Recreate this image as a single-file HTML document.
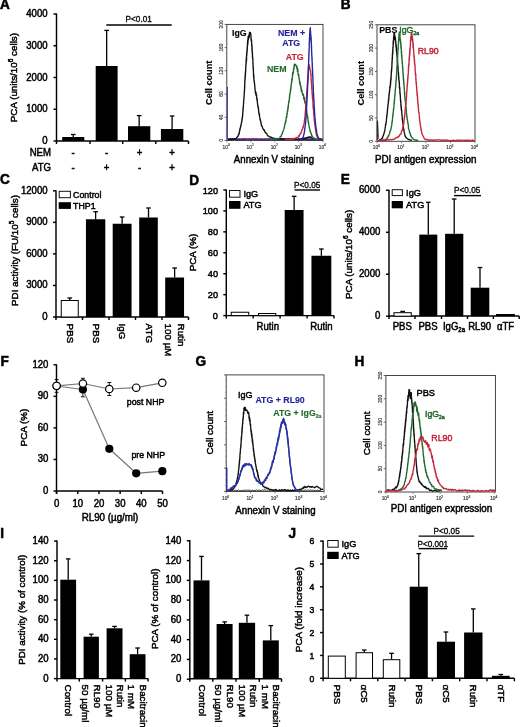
<!DOCTYPE html>
<html><head><meta charset="utf-8"><title>Figure</title>
<style>
html,body{margin:0;padding:0;background:#fff;}
svg{display:block;font-family:"Liberation Sans",sans-serif;filter:blur(0.4px);}
</style></head><body>
<svg width="520" height="727" viewBox="0 0 520 727">
<rect x="0" y="0" width="520" height="727" fill="#fff"/>
<text transform="translate(0,9) scale(1,1.06)" font-size="13.6" font-weight="bold" stroke="#000" stroke-width="0.5">A</text>
<line x1="56.5" y1="13.5" x2="56.5" y2="141.5" stroke="#000" stroke-width="1.45"/>
<line x1="53.5" y1="141" x2="56.5" y2="141" stroke="#000" stroke-width="1.45"/>
<text transform="translate(47.6,144) scale(1,1.06)" font-size="9.6" text-anchor="end" stroke="#000" stroke-width="0.45">0</text>
<line x1="53.5" y1="109.25" x2="56.5" y2="109.25" stroke="#000" stroke-width="1.45"/>
<text transform="translate(47.6,112.25) scale(1,1.06)" font-size="9.6" text-anchor="end" stroke="#000" stroke-width="0.45">1000</text>
<line x1="53.5" y1="77.5" x2="56.5" y2="77.5" stroke="#000" stroke-width="1.45"/>
<text transform="translate(47.6,80.5) scale(1,1.06)" font-size="9.6" text-anchor="end" stroke="#000" stroke-width="0.45">2000</text>
<line x1="53.5" y1="45.75" x2="56.5" y2="45.75" stroke="#000" stroke-width="1.45"/>
<text transform="translate(47.6,48.75) scale(1,1.06)" font-size="9.6" text-anchor="end" stroke="#000" stroke-width="0.45">3000</text>
<line x1="53.5" y1="14" x2="56.5" y2="14" stroke="#000" stroke-width="1.45"/>
<text transform="translate(47.6,17) scale(1,1.06)" font-size="9.6" text-anchor="end" stroke="#000" stroke-width="0.45">4000</text>
<line x1="56" y1="141" x2="188.5" y2="141" stroke="#000" stroke-width="1.45"/>
<line x1="56.5" y1="141" x2="56.5" y2="144" stroke="#000" stroke-width="1.45"/>
<line x1="90" y1="141" x2="90" y2="144" stroke="#000" stroke-width="1.45"/>
<line x1="122.7" y1="141" x2="122.7" y2="144" stroke="#000" stroke-width="1.45"/>
<line x1="155.8" y1="141" x2="155.8" y2="144" stroke="#000" stroke-width="1.45"/>
<line x1="188.5" y1="141" x2="188.5" y2="144" stroke="#000" stroke-width="1.45"/>
<rect x="62.2" y="137" width="22.1" height="4" fill="#000"/>
<line x1="73.25" y1="137" x2="73.25" y2="134.5" stroke="#000" stroke-width="1.3"/>
<line x1="70.95" y1="134.5" x2="75.55" y2="134.5" stroke="#000" stroke-width="1.3"/>
<rect x="95.7" y="66" width="21.9" height="75" fill="#000"/>
<line x1="106.65" y1="66" x2="106.65" y2="30.4" stroke="#000" stroke-width="1.3"/>
<line x1="104.35" y1="30.4" x2="108.95" y2="30.4" stroke="#000" stroke-width="1.3"/>
<rect x="128" y="126.2" width="22.3" height="14.8" fill="#000"/>
<line x1="139.15" y1="126.2" x2="139.15" y2="115.6" stroke="#000" stroke-width="1.3"/>
<line x1="136.85" y1="115.6" x2="141.45" y2="115.6" stroke="#000" stroke-width="1.3"/>
<rect x="160.9" y="129" width="22.4" height="12" fill="#000"/>
<line x1="172.1" y1="129" x2="172.1" y2="116" stroke="#000" stroke-width="1.3"/>
<line x1="169.8" y1="116" x2="174.4" y2="116" stroke="#000" stroke-width="1.3"/>
<text transform="translate(16.9,77.6) rotate(-90)" font-size="9.8" text-anchor="middle" stroke="#000" stroke-width="0.45">PCA (units/10<tspan dy="-3.6" font-size="6.6">6</tspan><tspan dy="3.6"> cells)</tspan></text>
<text transform="translate(51,155.8) scale(1,1.06)" font-size="9.6" text-anchor="end" stroke="#000" stroke-width="0.45">NEM</text>
<text transform="translate(51,170.8) scale(1,1.06)" font-size="9.6" text-anchor="end" stroke="#000" stroke-width="0.45">ATG</text>
<text transform="translate(73,155.8) scale(1,1.06)" font-size="9.6" text-anchor="middle" stroke="#000" stroke-width="0.45">-</text>
<text transform="translate(106.5,155.8) scale(1,1.06)" font-size="9.6" text-anchor="middle" stroke="#000" stroke-width="0.45">-</text>
<text transform="translate(139.5,155.8) scale(1,1.06)" font-size="9.6" text-anchor="middle" stroke="#000" stroke-width="0.45">+</text>
<text transform="translate(172,155.8) scale(1,1.06)" font-size="9.6" text-anchor="middle" stroke="#000" stroke-width="0.45">+</text>
<text transform="translate(73,170.8) scale(1,1.06)" font-size="9.6" text-anchor="middle" stroke="#000" stroke-width="0.45">-</text>
<text transform="translate(106.5,170.8) scale(1,1.06)" font-size="9.6" text-anchor="middle" stroke="#000" stroke-width="0.45">+</text>
<text transform="translate(139.5,170.8) scale(1,1.06)" font-size="9.6" text-anchor="middle" stroke="#000" stroke-width="0.45">-</text>
<text transform="translate(172,170.8) scale(1,1.06)" font-size="9.6" text-anchor="middle" stroke="#000" stroke-width="0.45">+</text>
<line x1="106.3" y1="25" x2="171.7" y2="25" stroke="#000" stroke-width="1.4"/>
<text transform="translate(138.7,22.3) scale(1,1.06)" font-size="8.2" text-anchor="middle" stroke="#000" stroke-width="0.3">P&lt;0.01</text>
<rect x="226.8" y="24.4" width="96.2" height="116.1" fill="none" stroke="#333" stroke-width="0.9"/>
<line x1="224.6" y1="140.5" x2="226.8" y2="140.5" stroke="#444" stroke-width="0.8"/>
<text transform="translate(223,140.5) rotate(-90)" font-size="4.8" text-anchor="middle" fill="#333" stroke="#333" stroke-width="0.15">0</text>
<line x1="225.6" y1="134.69" x2="226.8" y2="134.69" stroke="#888" stroke-width="0.6"/>
<line x1="225.6" y1="128.89" x2="226.8" y2="128.89" stroke="#888" stroke-width="0.6"/>
<line x1="225.6" y1="123.09" x2="226.8" y2="123.09" stroke="#888" stroke-width="0.6"/>
<line x1="224.6" y1="117.28" x2="226.8" y2="117.28" stroke="#444" stroke-width="0.8"/>
<text transform="translate(223,117.28) rotate(-90)" font-size="4.8" text-anchor="middle" fill="#333" stroke="#333" stroke-width="0.15">40</text>
<line x1="225.6" y1="111.47" x2="226.8" y2="111.47" stroke="#888" stroke-width="0.6"/>
<line x1="225.6" y1="105.67" x2="226.8" y2="105.67" stroke="#888" stroke-width="0.6"/>
<line x1="225.6" y1="99.87" x2="226.8" y2="99.87" stroke="#888" stroke-width="0.6"/>
<line x1="224.6" y1="94.06" x2="226.8" y2="94.06" stroke="#444" stroke-width="0.8"/>
<text transform="translate(223,94.06) rotate(-90)" font-size="4.8" text-anchor="middle" fill="#333" stroke="#333" stroke-width="0.15">80</text>
<line x1="225.6" y1="88.25" x2="226.8" y2="88.25" stroke="#888" stroke-width="0.6"/>
<line x1="225.6" y1="82.45" x2="226.8" y2="82.45" stroke="#888" stroke-width="0.6"/>
<line x1="225.6" y1="76.65" x2="226.8" y2="76.65" stroke="#888" stroke-width="0.6"/>
<line x1="224.6" y1="70.84" x2="226.8" y2="70.84" stroke="#444" stroke-width="0.8"/>
<text transform="translate(223,70.84) rotate(-90)" font-size="4.8" text-anchor="middle" fill="#333" stroke="#333" stroke-width="0.15">120</text>
<line x1="225.6" y1="65.03" x2="226.8" y2="65.03" stroke="#888" stroke-width="0.6"/>
<line x1="225.6" y1="59.23" x2="226.8" y2="59.23" stroke="#888" stroke-width="0.6"/>
<line x1="225.6" y1="53.43" x2="226.8" y2="53.43" stroke="#888" stroke-width="0.6"/>
<line x1="224.6" y1="47.62" x2="226.8" y2="47.62" stroke="#444" stroke-width="0.8"/>
<text transform="translate(223,47.62) rotate(-90)" font-size="4.8" text-anchor="middle" fill="#333" stroke="#333" stroke-width="0.15">160</text>
<line x1="225.6" y1="41.82" x2="226.8" y2="41.82" stroke="#888" stroke-width="0.6"/>
<line x1="225.6" y1="36.01" x2="226.8" y2="36.01" stroke="#888" stroke-width="0.6"/>
<line x1="225.6" y1="30.21" x2="226.8" y2="30.21" stroke="#888" stroke-width="0.6"/>
<line x1="224.6" y1="24.4" x2="226.8" y2="24.4" stroke="#444" stroke-width="0.8"/>
<text transform="translate(223,24.4) rotate(-90)" font-size="4.8" text-anchor="middle" fill="#333" stroke="#333" stroke-width="0.15">200</text>
<line x1="226.8" y1="140.5" x2="226.8" y2="142.5" stroke="#666" stroke-width="0.7"/>
<text transform="translate(226.2,148.5) scale(1,1.06)" font-size="4.8" text-anchor="middle" fill="#333" stroke="#333" stroke-width="0.15">10<tspan dy="-2.2" font-size="3.4">0</tspan><tspan dy="2.2"></tspan></text>
<line x1="250.8" y1="140.5" x2="250.8" y2="142.5" stroke="#666" stroke-width="0.7"/>
<text transform="translate(250.2,148.5) scale(1,1.06)" font-size="4.8" text-anchor="middle" fill="#333" stroke="#333" stroke-width="0.15">10<tspan dy="-2.2" font-size="3.4">1</tspan><tspan dy="2.2"></tspan></text>
<line x1="274.9" y1="140.5" x2="274.9" y2="142.5" stroke="#666" stroke-width="0.7"/>
<text transform="translate(274.3,148.5) scale(1,1.06)" font-size="4.8" text-anchor="middle" fill="#333" stroke="#333" stroke-width="0.15">10<tspan dy="-2.2" font-size="3.4">2</tspan><tspan dy="2.2"></tspan></text>
<line x1="298.9" y1="140.5" x2="298.9" y2="142.5" stroke="#666" stroke-width="0.7"/>
<text transform="translate(298.3,148.5) scale(1,1.06)" font-size="4.8" text-anchor="middle" fill="#333" stroke="#333" stroke-width="0.15">10<tspan dy="-2.2" font-size="3.4">3</tspan><tspan dy="2.2"></tspan></text>
<line x1="323" y1="140.5" x2="323" y2="142.5" stroke="#666" stroke-width="0.7"/>
<text transform="translate(322.4,148.5) scale(1,1.06)" font-size="4.8" text-anchor="middle" fill="#333" stroke="#333" stroke-width="0.15">10<tspan dy="-2.2" font-size="3.4">4</tspan><tspan dy="2.2"></tspan></text>
<polyline points="228,139.16 228.54,139.02 229.31,139.42 230.18,138.96 231,139.33 231.75,139.19 232.5,138.95 233.25,139.31 234,138.93 234.75,139.25 235.5,138.96 236.25,138.97 237,139.24 237.75,139.56 238.5,139 239.25,139.08 240,139.4 240.75,139.66 241.5,139.36 242.25,139.22 243,139.68 243.75,138.94 244.5,139.59 245.25,139.13 246,139.02 246.75,138.99 247.5,139.15 248.25,139.55 249,139.04 249.75,139.37 250.5,139.41 251.25,139.2 252,139.34 252.75,138.95 253.5,138.95 254.25,139.06 255,139.44 255.75,139.24 256.5,139.15 257.25,139.37 258,139.26 258.75,139.14 259.5,139.54 260.25,139.46 261,139.1 261.75,139.36 262.5,139.32 263.25,139.6 264,139.48 264.75,139.13 265.5,139.68 266.25,138.99 267,139.23 267.75,139.51 268.5,139.02 269.25,139.29 270,138.93 270.75,139.43 271.5,139.51 272.25,139.36 273,139.6 273.75,139.15 274.5,139.46 275.25,139.38 276,139.36 276.75,139.26 277.5,139.57 278.25,139.66 279,139.28 279.75,139.43 280.5,138.95 281.25,139.46 282,139.42 282.75,139.69 283.5,139.56 284.25,139.13 285,139.21 285.75,139.43 286.5,138.92 287.25,139.27 288,139.03 288.75,138.99 289.5,138.95 290.25,139.51 291,139 291.75,139.1 292.5,139.21 293.25,139.6 294,138.96 294.75,139.26 295.5,139.34 296.25,139.61 297,139.56 297.75,139.59 298.5,139.12 299.25,139.23 300,139.19 300.75,139.61 301.5,139.67 302.25,139.02 303,139.04 303.75,139.09 304.5,139.09 305.25,139.29 306,139.37 306.75,139.11 307.5,138.9 308.25,139.24 309,139.2 309.75,139.35 310.5,139.66 311.25,139.45 312,139.31 312.75,139.39 313.5,139.44 314.25,138.94 315,139.62 315.75,139.52 316.5,139.6 317.25,139.54 318,139.21 318.82,139.22 319.69,138.98 320.46,139.41 321,138.95" fill="none" stroke="#2a2a8a" stroke-width="1.7" stroke-linejoin="round"/>
<polyline points="240,138.57 240.54,138.71 241.31,138.66 242.18,138.84 243,138.55 243.75,138.5 244.5,138.65 245.25,138.6 246,138.86 246.75,138.53 247.5,139.37 248.25,139.11 249,138.65 249.75,138.75 250.5,138.85 251.25,138.86 252,138.62 252.75,139.35 253.5,139.49 254.25,138.97 255,138.98 255.75,138.59 256.5,138.6 257.25,138.84 258,138.76 258.75,139.33 259.5,138.66 260.25,138.52 261,139.45 261.75,139.03 262.5,138.65 263.25,139.04 264,138.53 264.75,139.03 265.5,139.48 266.25,139.36 267,139.2 267.75,138.76 268.5,138.87 269.25,138.67 270,139.27 270.75,139.03 271.5,139.28 272.25,138.83 273,138.72 273.75,139.31 274.5,139.48 275.25,139.35 276,139.31 276.75,139.32 277.5,139.24 278.25,138.73 279,139.02 279.75,138.86 280.5,138.53 281.25,138.53 282,138.78 282.75,138.76 283.5,139.19 284.25,139.46 285,138.95 285.75,139.44 286.5,139.49 287.25,139.46 288,138.86 288.75,138.72 289.5,138.73 290.25,138.7 291,138.7 291.75,139.12 292.5,139.4 293.25,139.34 294,138.98 294.82,139.15 295.69,139.3 296.46,138.58 297,139.16" fill="none" stroke="#b03050" stroke-width="0.8" stroke-linejoin="round"/>
<polyline points="227.5,139.36 228,139.57 228.69,139.48 229.5,139.12 230.37,138.85 231.23,139.68 232,138.85 232.86,139.21 233.71,139.11 234.53,138.74 235.3,138.88 236,139.04 236.51,138 236.96,137.5 237.38,136.67 237.76,136.28 238.13,136.21 238.5,135.1 238.7,133.73 238.9,134.04 239.09,134.18 239.27,132.7 239.45,131.27 239.63,131.37 239.81,129.94 239.98,128.47 240.16,129.16 240.33,127.82 240.5,126.73 240.65,127.13 240.79,125.33 240.93,125.81 241.07,125.21 241.21,123.58 241.35,123.36 241.49,122.74 241.62,121.71 241.76,121.82 241.9,120.36 242.03,119.76 242.17,118.03 242.3,118.71 242.36,116.93 242.42,117.21 242.48,116.32 242.53,116.91 242.59,115.09 242.65,116.04 242.71,113.72 242.77,113.19 242.83,112.48 242.89,110.43 242.95,111 243.01,109.92 243.06,108.55 243.12,110.28 243.18,106.91 243.24,107.11 243.3,107.7 243.35,106.55 243.41,104.69 243.47,104.65 243.52,103.54 243.58,103.86 243.63,101.21 243.69,101.92 243.74,100.1 243.79,99.53 243.85,99.96 243.9,98.17 243.95,97.67 244,97.97 244.05,97.97 244.1,95.74 244.14,95.49 244.19,94.31 244.23,93.71 244.28,93.43 244.32,91.86 244.37,91.03 244.41,90.68 244.45,91.33 244.49,90.19 244.54,89.95 244.58,89.22 244.62,85.58 244.66,86.16 244.7,87.32 244.74,86.22 244.78,82.1 244.82,81.26 244.86,82.25 244.9,80.01 244.94,79.85 244.98,78.29 245.02,80.46 245.06,79.8 245.1,79.86 245.14,76.05 245.18,78.26 245.22,77.11 245.26,74.34 245.3,76.7 245.35,76.1 245.4,71.93 245.45,75.08 245.5,71.58 245.55,70.94 245.6,72.32 245.65,71.26 245.7,67.55 245.74,67.92 245.79,67.49 245.84,66.3 245.89,65.13 245.94,64.48 245.98,65.6 246.03,61.76 246.08,63.76 246.13,62.74 246.18,59.59 246.23,60.93 246.28,61.64 246.34,60.2 246.39,57.02 246.44,61.54 246.5,59.31 246.55,59.94 246.61,54.33 246.67,54.38 246.72,52.88 246.78,55.54 246.84,52.65 246.9,50.75 246.95,51.22 247.01,53.02 247.07,51.9 247.13,48.33 247.19,47.17 247.26,49.86 247.32,47.41 247.38,47.21 247.44,43.76 247.5,42.18 247.56,44.84 247.63,42.72 247.69,40.38 247.75,44.93 247.81,42.64 247.88,42.89 247.94,38.57 248,42.34 248.2,36.08 248.4,39.34 248.61,36.72 248.82,35.19 249.02,35.28 249.23,37.51 249.42,33.19 249.6,32.17 249.92,34.2 250.21,32.65 250.49,32.66 250.8,34.9 250.86,34.77 250.93,36.58 251,37.04 251.07,38.2 251.14,40.7 251.21,38.78 251.28,40.94 251.35,39.8 251.42,41.1 251.49,39.68 251.57,42.03 251.64,41.42 251.72,46.55 251.79,45.78 251.86,44.79 251.94,47.6 252.01,50.24 252.08,47.02 252.16,52.04 252.23,50.9 252.3,51.61 252.34,53.95 252.38,52.28 252.43,54.18 252.47,55.23 252.51,57.81 252.55,55.33 252.59,58.09 252.64,58.12 252.68,59.04 252.72,58.35 252.76,58.54 252.8,58.22 252.85,59.07 252.89,59.54 252.93,63.41 252.97,62.43 253.01,62.92 253.06,63.12 253.1,67.81 253.14,68 253.18,68 253.22,67.13 253.27,68.11 253.31,69.12 253.35,70.21 253.39,69.45 253.43,71.66 253.47,71.6 253.51,75.83 253.56,75.96 253.6,75.19 253.64,74.42 253.68,78.33 253.72,75.96 253.76,76.61 253.8,75.37 253.88,78.12 253.97,79.57 254.05,80.98 254.13,80.02 254.22,82.24 254.3,81.37 254.38,82.8 254.46,82.63 254.54,84.56 254.62,84.15 254.7,84.51 254.78,86.77 254.87,86.98 254.95,89.05 255.03,88.81 255.12,90.1 255.2,90.3 255.34,91.72 255.48,93.23 255.62,91.74 255.75,91.87 255.89,95.05 256.04,92.58 256.19,95.39 256.35,95.84 256.52,94.55 256.7,98.36 256.78,98.64 256.87,98.81 256.96,99.35 257.05,100.46 257.14,98.58 257.24,100.91 257.33,101.12 257.43,103.01 257.53,103.63 257.63,104.37 257.74,104.9 257.84,106.44 257.94,106.31 258.05,107.16 258.15,106.93 258.26,106.69 258.37,107.55 258.47,109.46 258.58,109.28 258.68,112.45 258.79,111.58 258.9,112.73 259,113.62 259.14,114.6 259.28,114.91 259.42,113.66 259.55,116.8 259.69,117.27 259.83,117.42 259.97,118.86 260.1,119.57 260.25,119.06 260.39,120.95 260.54,120.84 260.69,120.75 260.84,121.69 261,123.79 261.16,123.35 261.33,124.44 261.5,125.9 261.78,125.72 262.07,125.96 262.37,127.02 262.68,127.93 263,128.79 263.32,129.18 263.65,130.1 263.98,129.76 264.32,130.1 264.66,130.68 265,132.23 265.46,132.57 265.92,133.22 266.38,133.2 266.84,133.79 267.33,135.08 267.85,135.84 268.4,135.93 269,136.35 269.53,136.56 270.03,137.19 270.52,137.48 271.04,137.27 271.61,137.29 272.26,138.44 273.02,137.92 273.93,138.46 275,138.59 275.53,138.67 276.1,138.46 276.71,138.9 277.37,138.85 278.06,138.7 278.78,139.03 279.52,139.16 280.28,139.01 281.06,138.61 281.85,139.23 282.65,138.68 283.45,138.7 284.25,139.59 285.04,138.96 285.82,139.53 286.58,139.13 287.32,139.64 288.04,139.27 288.73,138.92 289.38,139 290,139.34 290.88,139.32 291.74,139.56 292.58,139.02 293.4,139.45 294.19,139.22 294.95,139.29 295.69,139.04 296.4,139.13 297.08,139.43 297.73,139.53 298.34,139.04 298.93,139.35 299.48,139.37 300,139.7 301.2,138.9 302.08,138.77 302.76,138.93 303.36,138.79 304,138.22 304.82,138.07 305.56,138.32 306.27,137.55 307,137.87 307.75,137.38 308.5,137.23 309.25,136.67 310,137.81 310.75,137.07 311.5,137.97 312.25,138.13 313,138.42 313.67,138.3 314.28,138.43 315,138.9 316,139.35 316.6,139.27 317.33,139.07 318.15,139.15 319.01,139.62 319.86,139.77 320.69,139.02 321.43,139.47 322.04,139.51 322.5,139.07" fill="none" stroke="#111" stroke-width="1.35" stroke-linejoin="round"/>
<polyline points="270,139.78 270.43,138.75 271.02,139.67 271.71,139.7 272.49,139.74 273.31,138.8 274.15,138.9 274.97,138.83 275.74,138.65 276.43,139.49 277,139.29 278.03,138.91 278.75,138.64 279.34,138.39 280,137.28 280.38,136.4 280.76,136.36 281.15,136.48 281.53,134.94 281.91,133.99 282.29,133.67 282.65,131.89 283,131.19 283.19,131.11 283.38,130.39 283.57,130 283.75,129.43 283.93,128.55 284.11,128.5 284.28,127.07 284.45,127.39 284.63,126.15 284.8,125.22 284.97,123.46 285.15,123.96 285.32,122.42 285.5,123.26 285.62,120.57 285.75,121.36 285.88,121.74 286,119.69 286.12,120 286.25,117.1 286.38,118.32 286.5,116.56 286.62,117.69 286.75,117.12 286.88,113.37 287,114.89 287.12,114.58 287.25,111.66 287.38,111.12 287.5,111.88 287.62,109.17 287.75,111.13 287.88,107.86 288,109.44 288.1,106 288.2,106.41 288.3,107.58 288.4,104.38 288.5,103.47 288.6,104.09 288.7,102.19 288.8,101.21 288.9,100.88 289,100.15 289.1,101.96 289.2,100.05 289.3,100.13 289.4,96.77 289.5,98.75 289.6,94.75 289.7,96.33 289.8,95.11 289.9,93.52 290,94.78 290.1,93.48 290.2,92.45 290.3,92.78 290.4,89.54 290.5,91.68 290.6,89.74 290.71,88.13 290.81,89.22 290.92,86.3 291.03,88.39 291.13,85.63 291.24,83.94 291.34,84.68 291.45,83.25 291.56,81.17 291.66,82.9 291.77,78.6 291.87,81.44 291.98,78.58 292.08,79.34 292.19,79.7 292.29,77.6 292.4,77.69 292.5,74.83 292.6,72.75 292.7,72.38 292.8,72.71 292.9,74.4 293,72.35 293.21,71.62 293.42,72.46 293.63,68.03 293.84,67.78 294.04,68.62 294.24,65.07 294.44,64.18 294.64,66.09 294.83,64.19 295.02,64.39 295.2,64.33 295.67,64.99 296.11,65.8 296.55,65.61 297,68.88 297.14,68.61 297.28,67.27 297.42,71.41 297.56,69.28 297.7,69.02 297.84,69.63 297.99,73.07 298.13,74.56 298.28,75.31 298.42,74.78 298.57,74.87 298.71,74.34 298.86,78.04 299,78.24 299.14,77.71 299.29,80.19 299.43,79.86 299.57,83.06 299.71,83.1 299.86,81.31 300,84.96 300.14,82.27 300.29,84.7 300.43,84.7 300.57,85.2 300.71,85.31 300.86,88.78 301,86.24 301.2,89.38 301.4,91.53 301.61,89.09 301.81,89.85 302.01,91.98 302.21,92.57 302.41,93.21 302.61,94.82 302.81,93.41 303,94.5 303.24,95.17 303.47,94.59 303.69,98.53 303.92,98.85 304.14,99.47 304.36,97.47 304.58,101.5 304.8,102.28 304.93,101.15 305.07,103.18 305.2,102.95 305.33,102.45 305.46,102.83 305.59,104.43 305.72,103.57 305.85,105.77 305.98,107.44 306.11,108.62 306.24,109.99 306.37,109.91 306.5,108.89 306.61,110.92 306.73,111.23 306.84,113.17 306.95,112.92 307.06,113.06 307.18,115.08 307.29,116.42 307.4,115.02 307.51,118.11 307.63,115.84 307.74,117.72 307.85,118.12 307.97,120.49 308.08,121.03 308.2,122.08 308.33,121.21 308.47,122.96 308.6,122.66 308.74,123.34 308.88,125.13 309.01,125.65 309.15,126.48 309.29,127.38 309.43,128.3 309.57,127.88 309.71,129.15 309.85,130 310,131.06 310.21,130.74 310.41,131.67 310.61,132.74 310.82,132.66 311.03,133.03 311.25,134.12 311.48,134.7 311.73,136.25 312,135.76 312.4,136.23 312.78,137.06 313.19,137.89 313.67,138.68 314.26,138.36 315,138.95 315.57,139.31 316.26,139.61 317.03,139.3 317.85,139.17 318.69,139.44 319.51,138.86 320.29,139.67 320.98,139.12 321.57,139.73 322,139.15" fill="none" stroke="#23692f" stroke-width="1.35" stroke-linejoin="round"/>
<polyline points="285,139.24 285.44,139.42 286.02,139.73 286.71,139.55 287.49,139.3 288.32,139.21 289.18,139.16 290.05,139.48 290.89,139.04 291.68,139.29 292.39,139.13 293,139.37 293.91,139.15 294.67,138.39 295.31,138.26 295.89,138.19 296.44,137.47 297,137.83 297.56,137.73 298.08,137.33 298.57,135.61 299.04,136.46 299.52,135.64 300,134.19 300.3,133.4 300.6,133.87 300.91,133.34 301.22,132.06 301.52,131.04 301.82,130.55 302.11,129.49 302.39,129.47 302.65,128.27 302.9,127.27 303.07,127.67 303.23,127.33 303.38,125.62 303.53,125.99 303.67,125.11 303.81,124.94 303.94,123.9 304.07,123.55 304.19,122.67 304.32,122.47 304.44,120.18 304.56,120.29 304.68,118.7 304.8,118.87 304.87,117.49 304.93,117.65 305,116.45 305.06,115.28 305.13,114.53 305.19,113.3 305.25,113.58 305.31,111.72 305.37,111.87 305.43,110.19 305.49,110.48 305.55,110.17 305.61,109.28 305.67,109.69 305.73,106.11 305.78,108.07 305.84,105.81 305.9,105.26 305.96,105.58 306.01,104.9 306.07,102.34 306.13,102.13 306.18,103.35 306.24,99.01 306.3,100.56 306.35,99.67 306.4,96.95 306.45,97.93 306.51,97.49 306.56,98.45 306.61,95.41 306.66,96.8 306.71,94.36 306.76,93.28 306.81,94.52 306.86,90.17 306.91,92.49 306.96,91.23 307.01,89.4 307.06,90.84 307.11,87.56 307.16,87.08 307.21,86.68 307.26,86.94 307.31,83.85 307.36,84.03 307.41,83.68 307.46,83.79 307.51,83.93 307.55,81.4 307.6,82.99 307.65,79.86 307.7,80.09 307.77,78.05 307.83,77.97 307.9,79.81 307.96,76.94 308.03,76.9 308.09,74 308.16,73.3 308.22,72.11 308.29,72.35 308.35,71.8 308.41,71.48 308.48,67.89 308.54,70.39 308.61,69.88 308.67,67.51 308.74,64.75 308.8,65.52 308.87,64.11 308.93,64.62 309,67.8 309.23,65.16 309.46,66.08 309.69,67.28 309.93,68.87 310.17,69.17 310.4,70.19 310.46,70.78 310.51,72.09 310.57,72.32 310.62,73.07 310.68,71.23 310.73,74.17 310.79,74.02 310.84,75.56 310.9,73.47 310.96,74.52 311.01,74.53 311.07,78.84 311.12,79.97 311.18,79.68 311.23,79.16 311.29,82.34 311.34,82.45 311.4,82.87 311.46,81.99 311.51,82.86 311.57,84.88 311.63,84.69 311.68,86.52 311.74,88.1 311.8,90.05 311.85,86.62 311.9,89.6 311.96,87.94 312.01,89.64 312.06,92.98 312.11,92.62 312.17,94.51 312.22,93.35 312.27,92.85 312.33,94.72 312.38,96.34 312.44,97.96 312.49,98.91 312.54,97.68 312.6,98.72 312.65,98.24 312.71,100.56 312.76,100.37 312.81,100.41 312.87,100.8 312.92,101.29 312.98,104.37 313.03,103.66 313.08,106.73 313.14,104.42 313.19,107.87 313.25,106.03 313.3,106.81 313.37,109.19 313.44,109.22 313.5,110.78 313.57,110.62 313.64,110.84 313.71,113.38 313.78,114.18 313.85,115.19 313.91,115.57 313.98,114.51 314.05,116.86 314.12,118.3 314.19,118.38 314.25,120.23 314.32,118.55 314.39,121.15 314.46,121.69 314.53,120 314.6,121.2 314.66,122.97 314.73,124.5 314.8,122.69 314.91,124.75 315.01,126.14 315.12,125.68 315.22,127.76 315.33,128.49 315.43,128.23 315.54,129.25 315.64,130.5 315.75,131.33 315.86,131.78 315.97,131.87 316.08,133.06 316.19,133.03 316.3,134.41 316.54,135.41 316.75,135.65 316.96,136.27 317.22,137.23 317.55,138.25 318,138.47 318.64,138.52 319.46,138.59 320.36,139 321.23,139.48 321.98,139.54 322.5,139.45" fill="none" stroke="#c4243c" stroke-width="1.35" stroke-linejoin="round"/>
<polyline points="298,139.11 298.58,139 299.41,139.14 300.35,139.15 301.26,139.21 302,138.32 302.39,138.5 302.73,137.31 303.02,137.21 303.28,137.15 303.52,135.82 303.75,134.63 304,134.45 304.11,133.27 304.21,133.37 304.31,131.85 304.41,131.62 304.51,131.85 304.61,130.33 304.7,129.38 304.8,129.02 304.89,128.52 304.98,127.17 305.07,127.22 305.16,126.51 305.25,125.53 305.34,123.95 305.43,124.15 305.51,123.37 305.6,123.11 305.65,121.21 305.7,121.23 305.75,120.18 305.8,120.44 305.85,117.77 305.9,119.39 305.95,119.19 306,117.06 306.04,116.71 306.09,115.66 306.14,115.09 306.18,113.14 306.23,114.82 306.28,112.03 306.32,111.51 306.37,110.29 306.41,110.17 306.46,110.8 306.5,107.58 306.54,107.11 306.59,108.12 306.63,106.2 306.68,104.41 306.72,105.66 306.77,104.51 306.81,103.76 306.86,103.45 306.9,100.58 306.93,102.39 306.97,101.27 307,98.69 307.03,98.02 307.06,98.6 307.1,97.93 307.13,96.5 307.16,95.2 307.2,95.42 307.23,94.09 307.26,94.89 307.29,95.08 307.33,91.98 307.36,92.52 307.39,92.57 307.42,89.92 307.45,91.35 307.49,91.25 307.52,88.57 307.55,87.94 307.58,88.5 307.61,86.6 307.65,85.55 307.68,86.85 307.71,85.78 307.74,82.77 307.77,82.05 307.8,81.44 307.83,80.97 307.86,82.71 307.89,81.04 307.92,81.14 307.95,79.74 307.98,79.56 308.01,75.16 308.04,76.38 308.07,77.58 308.1,77.02 308.13,72.95 308.16,73.38 308.19,73.15 308.22,71.4 308.25,71.44 308.28,68.38 308.31,69.63 308.34,68.98 308.37,66.11 308.4,65.86 308.43,68.92 308.46,67.31 308.49,67.17 308.52,65.02 308.55,65.55 308.58,64.87 308.6,64.35 308.63,59.1 308.66,61.65 308.69,58.94 308.72,60.37 308.74,57.5 308.77,58 308.8,59.39 308.83,57.1 308.85,54.45 308.88,55.5 308.91,54.11 308.94,56.19 308.96,52.38 308.99,51.73 309.02,52.92 309.05,49.49 309.07,50.91 309.1,52.28 309.13,48.97 309.17,47.21 309.2,47.4 309.24,46.71 309.27,43.79 309.3,42.92 309.34,42.1 309.37,41.84 309.4,41.95 309.44,40.14 309.47,39.2 309.5,37.22 309.53,38.93 309.57,40.27 309.6,38.09 309.63,37.11 309.66,36.45 309.7,33.2 309.73,35.54 309.76,33.52 309.8,33.52 309.83,33.42 309.86,31.9 309.9,30.72 309.93,30.15 309.97,29.44 310,31.28 310.09,29.92 310.19,31.05 310.28,27.56 310.38,30.07 310.48,33.84 310.57,30.91 310.67,33.64 310.78,35.06 310.89,35.32 311,40.62 311.03,37.03 311.06,40.69 311.09,37.61 311.12,37.29 311.16,42.45 311.19,40.55 311.22,39.46 311.25,41.53 311.29,42.87 311.32,45.04 311.35,41.88 311.39,43.57 311.42,48.07 311.46,47.79 311.49,45.41 311.53,46.8 311.56,47.51 311.6,50.5 311.63,50.63 311.67,52.94 311.7,53.41 311.74,52.63 311.77,54.62 311.81,55.31 311.84,56.08 311.88,55.18 311.91,57.94 311.95,58.19 311.99,60.07 312.02,57.15 312.06,61.2 312.09,58.05 312.13,62.19 312.16,62.48 312.2,62.88 312.23,65.6 312.27,64.62 312.3,64.88 312.33,67.13 312.36,68.18 312.39,67.43 312.42,66.93 312.45,68.17 312.48,68.94 312.52,70.77 312.55,69.55 312.58,70.63 312.61,72.47 312.64,72.39 312.67,72.59 312.7,75.44 312.73,76.62 312.76,75.74 312.79,76.54 312.82,75.78 312.85,77.03 312.88,77.44 312.91,79.62 312.94,80.64 312.97,79.13 313.01,83.71 313.04,81.76 313.07,84.81 313.1,85.16 313.13,86.68 313.16,84.25 313.19,85.81 313.22,88.68 313.25,85.79 313.28,86.23 313.31,89.11 313.35,89.58 313.38,91.84 313.41,91.86 313.44,91.75 313.47,94.14 313.5,93.25 313.54,93.75 313.57,94.83 313.6,94.48 313.64,95.28 313.68,96.91 313.73,96.73 313.77,99.63 313.81,99.42 313.85,100.27 313.9,99.44 313.94,100.79 313.98,102.05 314.03,103.54 314.07,104.1 314.11,105.6 314.16,106.85 314.2,106 314.24,106.45 314.29,107.98 314.33,109.55 314.38,108.77 314.42,109.89 314.46,111.45 314.51,110.38 314.55,111.34 314.6,113.7 314.64,113.9 314.69,113.59 314.73,113.03 314.77,116.29 314.82,116.37 314.86,117 314.91,117.97 314.95,118.54 315,118 315.08,118.36 315.16,119.2 315.24,121.03 315.33,121.91 315.41,121.96 315.49,122.51 315.58,124.2 315.66,125.26 315.74,125.15 315.83,127.18 315.91,127.22 316,126.59 316.08,128.21 316.16,129.14 316.25,128.73 316.33,130.29 316.42,129.71 316.5,130.87 316.68,132.76 316.86,133.45 317.04,134.42 317.22,134.3 317.4,135.33 317.59,135.78 317.79,136.13 318,137.18 318.45,137.63 318.94,138.86 319.45,138.71 320,139.14 320.89,139.64 321.83,139.12 322.5,139.17" fill="none" stroke="#24249c" stroke-width="1.35" stroke-linejoin="round"/>
<line x1="227.4" y1="87" x2="227.4" y2="139.5" stroke="#3a3a9a" stroke-width="1.0"/>
<text transform="translate(232,35.6) scale(1,1.06)" font-size="8.8" font-weight="bold" stroke="#000" stroke-width="0.12">IgG</text>
<text transform="translate(278,35.8) scale(1,1.06)" font-size="8.8" font-weight="bold" fill="#24249c" stroke="#24249c" stroke-width="0.12">NEM +</text>
<text transform="translate(282.3,46.2) scale(1,1.06)" font-size="8.8" font-weight="bold" fill="#24249c" stroke="#24249c" stroke-width="0.12">ATG</text>
<text transform="translate(285.8,60) scale(1,1.06)" font-size="8.8" font-weight="bold" fill="#c4243c" stroke="#c4243c" stroke-width="0.12">ATG</text>
<text transform="translate(267,71.9) scale(1,1.06)" font-size="8.8" font-weight="bold" fill="#23692f" stroke="#23692f" stroke-width="0.12">NEM</text>
<text transform="translate(212.2,82.8) rotate(-90)" font-size="9.2" font-weight="bold" text-anchor="middle" stroke="#000" stroke-width="0.15">Cell count</text>
<text transform="translate(273.9,163.4) scale(1,1.06)" font-size="9.7" text-anchor="middle" stroke="#000" stroke-width="0.45">Annexin V staining</text>
<text transform="translate(340.8,9) scale(1,1.06)" font-size="13.6" font-weight="bold" stroke="#000" stroke-width="0.5">B</text>
<rect x="377" y="24.8" width="98" height="116.5" fill="none" stroke="#333" stroke-width="0.9"/>
<line x1="374.8" y1="141.3" x2="377" y2="141.3" stroke="#444" stroke-width="0.8"/>
<text transform="translate(373.4,141.3) rotate(-90)" font-size="4.8" text-anchor="middle" fill="#333" stroke="#333" stroke-width="0.15">0</text>
<line x1="375.8" y1="135.48" x2="377" y2="135.48" stroke="#888" stroke-width="0.6"/>
<line x1="375.8" y1="129.65" x2="377" y2="129.65" stroke="#888" stroke-width="0.6"/>
<line x1="375.8" y1="123.83" x2="377" y2="123.83" stroke="#888" stroke-width="0.6"/>
<line x1="374.8" y1="118" x2="377" y2="118" stroke="#444" stroke-width="0.8"/>
<text transform="translate(373.4,118) rotate(-90)" font-size="4.8" text-anchor="middle" fill="#333" stroke="#333" stroke-width="0.15">50</text>
<line x1="375.8" y1="112.17" x2="377" y2="112.17" stroke="#888" stroke-width="0.6"/>
<line x1="375.8" y1="106.35" x2="377" y2="106.35" stroke="#888" stroke-width="0.6"/>
<line x1="375.8" y1="100.53" x2="377" y2="100.53" stroke="#888" stroke-width="0.6"/>
<line x1="374.8" y1="94.7" x2="377" y2="94.7" stroke="#444" stroke-width="0.8"/>
<text transform="translate(373.4,94.7) rotate(-90)" font-size="4.8" text-anchor="middle" fill="#333" stroke="#333" stroke-width="0.15">100</text>
<line x1="375.8" y1="88.88" x2="377" y2="88.88" stroke="#888" stroke-width="0.6"/>
<line x1="375.8" y1="83.05" x2="377" y2="83.05" stroke="#888" stroke-width="0.6"/>
<line x1="375.8" y1="77.22" x2="377" y2="77.22" stroke="#888" stroke-width="0.6"/>
<line x1="374.8" y1="71.4" x2="377" y2="71.4" stroke="#444" stroke-width="0.8"/>
<text transform="translate(373.4,71.4) rotate(-90)" font-size="4.8" text-anchor="middle" fill="#333" stroke="#333" stroke-width="0.15">150</text>
<line x1="375.8" y1="65.58" x2="377" y2="65.58" stroke="#888" stroke-width="0.6"/>
<line x1="375.8" y1="59.75" x2="377" y2="59.75" stroke="#888" stroke-width="0.6"/>
<line x1="375.8" y1="53.93" x2="377" y2="53.93" stroke="#888" stroke-width="0.6"/>
<line x1="374.8" y1="48.1" x2="377" y2="48.1" stroke="#444" stroke-width="0.8"/>
<text transform="translate(373.4,48.1) rotate(-90)" font-size="4.8" text-anchor="middle" fill="#333" stroke="#333" stroke-width="0.15">200</text>
<line x1="375.8" y1="42.27" x2="377" y2="42.27" stroke="#888" stroke-width="0.6"/>
<line x1="375.8" y1="36.45" x2="377" y2="36.45" stroke="#888" stroke-width="0.6"/>
<line x1="375.8" y1="30.62" x2="377" y2="30.62" stroke="#888" stroke-width="0.6"/>
<line x1="374.8" y1="24.8" x2="377" y2="24.8" stroke="#444" stroke-width="0.8"/>
<text transform="translate(373.4,24.8) rotate(-90)" font-size="4.8" text-anchor="middle" fill="#333" stroke="#333" stroke-width="0.15">250</text>
<line x1="377" y1="141.3" x2="377" y2="143.3" stroke="#666" stroke-width="0.7"/>
<text transform="translate(376.4,149.3) scale(1,1.06)" font-size="4.8" text-anchor="middle" fill="#333" stroke="#333" stroke-width="0.15">10<tspan dy="-2.2" font-size="3.4">0</tspan><tspan dy="2.2"></tspan></text>
<line x1="401.5" y1="141.3" x2="401.5" y2="143.3" stroke="#666" stroke-width="0.7"/>
<text transform="translate(400.9,149.3) scale(1,1.06)" font-size="4.8" text-anchor="middle" fill="#333" stroke="#333" stroke-width="0.15">10<tspan dy="-2.2" font-size="3.4">1</tspan><tspan dy="2.2"></tspan></text>
<line x1="426" y1="141.3" x2="426" y2="143.3" stroke="#666" stroke-width="0.7"/>
<text transform="translate(425.4,149.3) scale(1,1.06)" font-size="4.8" text-anchor="middle" fill="#333" stroke="#333" stroke-width="0.15">10<tspan dy="-2.2" font-size="3.4">2</tspan><tspan dy="2.2"></tspan></text>
<line x1="450.5" y1="141.3" x2="450.5" y2="143.3" stroke="#666" stroke-width="0.7"/>
<text transform="translate(449.9,149.3) scale(1,1.06)" font-size="4.8" text-anchor="middle" fill="#333" stroke="#333" stroke-width="0.15">10<tspan dy="-2.2" font-size="3.4">3</tspan><tspan dy="2.2"></tspan></text>
<line x1="475" y1="141.3" x2="475" y2="143.3" stroke="#666" stroke-width="0.7"/>
<text transform="translate(474.4,149.3) scale(1,1.06)" font-size="4.8" text-anchor="middle" fill="#333" stroke="#333" stroke-width="0.15">10<tspan dy="-2.2" font-size="3.4">4</tspan><tspan dy="2.2"></tspan></text>
<polyline points="377.2,140.2 377.2,139.81 377.21,139.33 377.21,138.78 377.22,138.17 377.22,137.49 377.23,136.76 377.23,135.98 377.24,135.17 377.24,134.32 377.25,133.44 377.25,132.55 377.26,131.64 377.27,130.73 377.27,129.82 377.28,128.92 377.29,128.03 377.3,127.16 377.3,126.33 377.31,125.52 377.32,124.76 377.33,124.05 377.34,123.4 377.35,122.81 377.36,122.28 377.38,121.84 377.39,121.47 377.4,121.2 377.44,120.8 377.49,120.9 377.54,121.41 377.6,122.23 377.66,123.29 377.72,124.48 377.78,125.72 377.84,126.93 377.9,128 377.93,128.63 377.97,129.32 378.01,130.08 378.05,130.87 378.09,131.7 378.12,132.55 378.16,133.4 378.2,134.24 378.24,135.07 378.27,135.85 378.3,136.59 378.33,137.27 378.36,137.87 378.38,138.39 378.4,138.8" fill="none" stroke="#111" stroke-width="1.0" stroke-linejoin="round"/>
<polyline points="379,140.16 379.91,139.63 381,139.29 381.51,138.53 381.97,138.52 382.5,138.05 382.71,136.97 382.93,136.65 383.16,135.59 383.4,135.51 383.64,134.67 383.89,133.75 384.13,132.85 384.37,132.01 384.6,131.15 384.71,131.22 384.83,130.42 384.94,128.84 385.05,128.5 385.16,128.16 385.27,127.38 385.38,126.64 385.48,125.79 385.59,124.41 385.7,124.05 385.81,123.79 385.92,124.54 386.03,122.98 386.14,121.98 386.26,121.81 386.37,121.08 386.48,119.43 386.6,118.71 386.68,116.61 386.75,117.05 386.83,116.66 386.9,114.62 386.98,114.67 387.06,115.18 387.14,113.08 387.21,113.23 387.29,111.54 387.37,110.65 387.45,112.18 387.53,108.35 387.61,107.93 387.69,108.74 387.77,107.71 387.85,105.93 387.93,106.44 388.01,104.63 388.09,105.17 388.17,103.43 388.25,103.65 388.32,102.63 388.4,101.41 388.48,99.44 388.56,99.29 388.64,100.81 388.72,98.75 388.8,96.91 388.88,98.3 388.96,95.85 389.04,94.01 389.12,95.4 389.2,93.45 389.28,94.02 389.37,92.93 389.45,91.36 389.53,91.89 389.61,89.79 389.7,90.69 389.78,90.04 389.86,86.98 389.94,87.62 390.03,85.56 390.11,86.48 390.19,87.36 390.27,85.34 390.34,85.75 390.42,85.13 390.5,81.42 390.57,84.97 390.65,82.47 390.72,79.35 390.79,81.43 390.86,79.34 390.93,77.62 391,79.85 391.06,77.8 391.11,78.12 391.17,74.14 391.22,76.35 391.27,72.51 391.32,72.93 391.37,72.24 391.42,70.28 391.47,72.15 391.52,69.52 391.57,69.29 391.61,70.7 391.66,68.09 391.7,70.09 391.75,67.65 391.79,68.45 391.84,66.29 391.88,66.72 391.92,66.31 391.97,62.23 392.01,63.78 392.05,60.83 392.1,62.27 392.14,61.82 392.18,61.06 392.23,57.53 392.27,57.48 392.32,59.1 392.36,58.98 392.41,57.21 392.45,53.46 392.5,55.21 392.56,52 392.61,54 392.67,54.35 392.72,50.02 392.78,53.55 392.84,50.63 392.89,47.69 392.95,46.95 393,47.38 393.06,48.14 393.12,46.29 393.17,42.69 393.23,41.53 393.28,40.96 393.34,43.93 393.4,40.54 393.45,41.33 393.51,39.61 393.56,40.57 393.62,38.51 393.67,36.3 393.73,40.12 393.78,37.5 393.84,38.31 393.89,38.14 393.95,39.06 394,33.22 394.24,33.98 394.47,33.06 394.69,35.82 394.92,39.38 395.16,39.95 395.4,37.17 395.47,39.07 395.54,43.06 395.6,42.69 395.67,41.29 395.74,42.27 395.81,41.21 395.88,45.48 395.95,43.65 396.02,47.34 396.09,46.54 396.16,44.5 396.23,46.48 396.31,46.37 396.38,51.35 396.45,50.5 396.53,48.35 396.61,49.88 396.68,51.86 396.76,53.53 396.84,54.9 396.92,54.69 397,55.17 397.05,53.92 397.11,57.54 397.16,57.35 397.22,55.93 397.27,58.8 397.33,62.12 397.39,57.84 397.44,59.71 397.5,62.21 397.56,61.41 397.62,62.36 397.68,63.64 397.74,63.48 397.8,65.5 397.85,65.91 397.91,68.66 397.98,69.48 398.04,66.23 398.1,69.42 398.16,71.25 398.22,71.77 398.28,72.57 398.34,72.35 398.4,73.36 398.46,72.78 398.52,72.97 398.58,76.57 398.64,76.88 398.7,78.5 398.76,78.17 398.82,76.96 398.88,79.78 398.94,80.72 399,79.83 399.06,81.39 399.11,80.96 399.17,82.25 399.23,82.62 399.29,81.63 399.34,83.64 399.4,84.39 399.46,87.93 399.51,86.29 399.57,86.81 399.63,86.98 399.69,87.44 399.74,88.96 399.8,88.58 399.86,89.35 399.91,93.13 399.97,92.44 400.03,92.99 400.09,94.16 400.14,93.68 400.2,93.86 400.26,94.84 400.31,96.12 400.37,96.87 400.43,99.11 400.49,99.41 400.54,101.03 400.6,99.54 400.66,102.79 400.71,101.99 400.77,101.07 400.83,102.23 400.89,104.31 400.94,106.3 401,104.16 401.07,106.62 401.15,106.65 401.22,108.85 401.3,106.53 401.37,108.67 401.44,110.81 401.52,109.54 401.59,110.46 401.67,110.88 401.74,111.83 401.81,112.83 401.89,114.52 401.96,114.11 402.04,115.82 402.11,115.73 402.19,117.33 402.26,118.72 402.33,119.07 402.41,118.53 402.48,120.07 402.56,121.7 402.63,121.17 402.7,120.64 402.78,122.78 402.85,123.62 402.93,122.94 403,123.08 403.12,123.87 403.24,125.69 403.36,127.56 403.48,127.51 403.59,128.97 403.71,128.84 403.82,129.47 403.94,130.99 404.06,131.45 404.18,132.2 404.3,132.68 404.43,133.21 404.56,133.59 404.7,134.13 404.85,134.36 405,135.89 405.43,136.53 405.89,137.34 406.38,137.79 406.89,138.32 407.43,138.8 408,139.2 408.8,139.68 409.72,139.79 410.64,140.21 411.44,140.06 412,139.92" fill="none" stroke="#111" stroke-width="1.35" stroke-linejoin="round"/>
<polyline points="381,140.45 381.57,140.4 382.38,140.26 383.32,139.83 384.23,140.27 385,139.93 385.74,139.47 386.36,138.78 386.92,138.5 387.5,137.12 387.84,137.59 388.18,135.94 388.52,136.15 388.85,135.27 389.17,134.62 389.49,134.07 389.8,131.54 389.98,131.85 390.15,131.3 390.32,130.57 390.49,130.87 390.65,129.86 390.81,129.16 390.97,129.32 391.14,127.46 391.3,127.08 391.46,126.27 391.63,125.91 391.8,124.74 391.88,124.28 391.96,122.61 392.05,120.92 392.13,122.32 392.21,121.57 392.29,121.1 392.37,120.69 392.45,118.58 392.54,118.14 392.62,116.45 392.7,118.12 392.78,115.1 392.87,114.41 392.95,116.09 393.03,114.49 393.12,112.41 393.2,113.33 393.29,112.53 393.37,110.94 393.46,108.91 393.55,110.42 393.63,108.52 393.72,107.91 393.81,108.19 393.9,106.86 393.96,106.81 394.01,103.6 394.07,103.79 394.13,103.91 394.19,100.99 394.25,104.17 394.31,100.54 394.37,100.46 394.43,99.46 394.5,98.65 394.56,100.68 394.62,98.43 394.68,97.46 394.75,96.96 394.81,94.65 394.87,95.1 394.94,96.1 395,95.23 395.06,95.09 395.12,91.69 395.19,91.12 395.25,89.15 395.31,90.83 395.38,88.91 395.44,88.82 395.5,87.75 395.56,87.54 395.62,86.52 395.68,87.18 395.74,84.24 395.8,86.05 395.86,83.88 395.92,80.8 395.98,81.55 396.03,82 396.09,80.46 396.14,80.31 396.2,78.98 396.25,78.02 396.3,79.44 396.35,76.03 396.4,77.63 396.45,77.18 396.5,75.93 396.55,74.1 396.6,75.8 396.64,72.8 396.69,73.85 396.74,69.42 396.78,70.54 396.83,70.94 396.87,67.08 396.92,70.07 396.96,66.05 397,67.07 397.04,64.94 397.09,67.65 397.13,65.06 397.17,65.4 397.21,63.42 397.25,63.67 397.29,62.81 397.33,60.21 397.38,58.5 397.42,61.16 397.46,56.81 397.49,60.67 397.53,56.32 397.57,54.48 397.61,54.13 397.65,57 397.69,56.78 397.73,53.64 397.77,54.56 397.81,51.76 397.85,54.26 397.88,52.9 397.92,49.13 397.96,48.24 398,50.98 398.07,46.94 398.14,49.94 398.21,46.16 398.27,44.74 398.34,45.44 398.4,43.52 398.47,43.72 398.53,40.55 398.59,43.56 398.66,39.35 398.72,41.77 398.78,37.32 398.84,40.23 398.9,40.22 398.96,36.09 399.03,33.76 399.09,35.51 399.15,35.98 399.21,33.65 399.27,34.73 399.34,31.98 399.4,33.74 399.5,35.34 399.6,33.75 399.69,35.88 399.79,33.01 399.89,37.02 399.98,33.72 400.08,39.56 400.18,40.22 400.28,40.93 400.38,39.69 400.48,39.17 400.58,40.71 400.69,44.17 400.8,43.89 400.85,47.25 400.9,42.65 400.95,45.31 401,48.51 401.05,47.3 401.11,47.91 401.16,45.95 401.21,47 401.26,48 401.32,51.86 401.37,52.77 401.42,49.97 401.48,54.43 401.53,50.56 401.59,54.33 401.64,56.6 401.7,54.19 401.75,58.48 401.81,57.45 401.86,54.94 401.92,57.43 401.98,58.51 402.03,58.68 402.09,61.36 402.15,59.97 402.21,63.57 402.26,61.77 402.32,61.9 402.38,64.54 402.44,63.06 402.5,65.9 402.55,68.08 402.6,67.98 402.65,67.94 402.7,66.39 402.76,69.66 402.81,67.84 402.86,71.27 402.91,69.85 402.97,72.89 403.02,72.3 403.07,73.17 403.13,75.28 403.18,73.43 403.23,74.63 403.29,78.67 403.34,76.35 403.4,79.39 403.45,80.58 403.51,79.22 403.56,78.39 403.62,79.44 403.67,83.27 403.73,80.73 403.79,83.19 403.84,84.27 403.9,82.62 403.95,84.96 404.01,84.2 404.06,86.71 404.12,87.36 404.17,87.77 404.23,87.63 404.28,89.06 404.34,88.8 404.39,89.3 404.45,90.16 404.5,93.72 404.57,93.02 404.63,95.33 404.7,92.21 404.77,96.91 404.83,96.03 404.9,97.71 404.97,97.97 405.03,99.15 405.1,98.11 405.17,100.78 405.23,99.26 405.3,100.57 405.37,99.9 405.43,102.33 405.5,103.47 405.57,103.34 405.63,105.78 405.7,103.62 405.77,106.37 405.83,106.1 405.9,107.5 405.97,108.71 406.03,109.13 406.1,107.64 406.17,109.32 406.23,111.27 406.3,112.91 406.37,110.33 406.43,112.92 406.5,113.22 406.6,115.04 406.7,114.12 406.8,116 406.89,116.33 406.99,117.96 407.08,116.39 407.18,119.41 407.28,119.07 407.37,119.86 407.47,119.98 407.57,120.44 407.66,122.92 407.76,122.86 407.86,122.36 407.96,123.77 408.07,123.71 408.17,124.45 408.28,125.29 408.39,125.84 408.5,128.21 408.67,128.62 408.85,129.54 409.03,129.74 409.22,130.35 409.4,131.18 409.59,132.7 409.78,132.53 409.98,133.39 410.18,133.32 410.38,134.24 410.58,135.53 410.79,136.04 411,135.59 411.46,137.05 411.93,137.48 412.41,137.95 412.91,138.71 413.44,139.36 414,139.83 414.8,139.73 415.72,140.36 416.64,140.01 417.44,140.6 418,139.9" fill="none" stroke="#23692f" stroke-width="1.35" stroke-linejoin="round"/>
<polyline points="377.5,140.29 377.95,140.87 378.53,140.43 379.21,140.65 379.98,140.04 380.81,140.35 381.68,140.2 382.55,140.06 383.41,140.43 384.24,140.09 385,139.8 385.73,140.64 386.48,140.09 387.23,139.74 387.98,139.45 388.72,140.13 389.44,139.76 390.14,139.26 390.8,139.7 391.42,139.91 392,139.77 392.85,139.21 393.57,139.37 394.22,139.24 394.81,138.9 395.4,138.17 396,137.9 396.62,137.8 397.24,137.06 397.84,137.63 398.43,136.64 398.98,136.56 399.5,134.92 399.91,134.58 400.3,134.16 400.67,134.55 401.02,133.76 401.35,132.19 401.68,130.79 402,130.39 402.16,129.9 402.31,130.38 402.46,130.17 402.61,128.8 402.75,127.82 402.89,126.7 403.03,126.36 403.17,126.35 403.31,125.8 403.44,125.52 403.58,124.75 403.72,123.65 403.86,122.35 404,121.78 404.07,119.97 404.15,119.02 404.22,119.23 404.3,119.06 404.37,117.1 404.44,117.3 404.52,115.55 404.59,117.12 404.67,116.59 404.74,116.02 404.81,115.54 404.89,113.23 404.96,113.69 405.04,111.37 405.11,112.24 405.19,111.42 405.26,109.1 405.33,107.21 405.41,107.61 405.48,107.7 405.56,106.43 405.63,104.52 405.7,106.56 405.78,105.1 405.85,103.3 405.93,100.92 406,103.76 406.05,101.19 406.11,98.92 406.16,99.52 406.22,100 406.27,100.56 406.33,97.71 406.38,97.76 406.44,95.42 406.49,95.24 406.55,96.9 406.6,94.2 406.66,92.86 406.71,93.8 406.77,91.46 406.82,91.11 406.88,90.76 406.93,91.15 406.99,90.14 407.04,89.37 407.09,88.34 407.15,85.36 407.2,87.22 407.26,83.97 407.31,84.96 407.37,84.54 407.42,84.86 407.47,83.9 407.53,81.26 407.58,82.57 407.63,82 407.69,80.19 407.74,77.91 407.79,80.21 407.84,78.27 407.9,75.57 407.95,75.59 408,78.46 408.06,74.4 408.11,74.45 408.17,74.82 408.22,74.15 408.28,73.27 408.33,72.74 408.39,68.37 408.44,68.33 408.49,71.35 408.55,69.77 408.6,65.51 408.65,64.95 408.71,65.26 408.76,67.32 408.81,63.74 408.87,65.1 408.92,65.51 408.97,63.54 409.02,64.33 409.08,59.65 409.13,58.81 409.18,57.6 409.23,60.65 409.28,56.6 409.34,59.91 409.39,58.59 409.44,55.09 409.49,57.12 409.54,53.32 409.59,54.96 409.65,51.53 409.7,54.64 409.75,55.06 409.8,54.55 409.87,48.27 409.95,52.35 410.02,49.55 410.09,50.36 410.16,47.84 410.24,47.01 410.31,46.07 410.38,46.3 410.45,41.52 410.53,40.32 410.6,42.28 410.67,40.3 410.74,40.12 410.81,36.88 410.88,40.76 410.95,36.35 411.02,39.95 411.09,39.07 411.16,36.85 411.23,34.22 411.3,36.59 411.37,33.99 411.43,34.56 411.5,33.12 411.63,37.42 411.76,35.17 411.88,34.84 412,33.63 412.11,37.95 412.23,39.23 412.35,40.12 412.47,37.01 412.59,39.88 412.72,40.04 412.86,44.38 413,41.89 413.06,44.87 413.11,47.95 413.17,47.16 413.23,43.82 413.28,44.82 413.34,45.4 413.4,48.81 413.46,48.8 413.53,49.52 413.59,50.04 413.65,50.08 413.71,51.7 413.78,52.56 413.84,54.86 413.9,55.11 413.97,55.58 414.03,57.15 414.1,57.56 414.16,58.12 414.23,55.65 414.29,58.88 414.36,60.61 414.42,60.03 414.49,63.09 414.55,59.66 414.62,64.4 414.68,62.88 414.75,64.78 414.81,63.43 414.87,64.5 414.94,65.3 415,65.76 415.06,65.38 415.11,67.81 415.17,70.99 415.23,70.62 415.29,72.69 415.34,72.21 415.4,73.74 415.46,75.12 415.51,74.38 415.57,73.05 415.63,73.4 415.69,75.53 415.74,74.18 415.8,75.4 415.86,79.13 415.91,80.49 415.97,78.34 416.03,81.3 416.09,81.61 416.14,83.33 416.2,83.65 416.26,82.62 416.31,81.98 416.37,85.38 416.43,84.43 416.49,86.53 416.54,86.17 416.6,87.07 416.66,89.39 416.71,87.35 416.77,89.45 416.83,90.23 416.89,90.52 416.94,93.12 417,91.29 417.06,94.48 417.13,94.01 417.19,95.84 417.26,93.42 417.32,94.75 417.39,95.97 417.45,98.38 417.52,96.5 417.58,97.7 417.65,100.15 417.71,102.17 417.77,100.09 417.84,101.68 417.9,103.54 417.97,103.65 418.03,104.65 418.1,105.7 418.16,104.38 418.23,105.03 418.29,105.06 418.35,108.38 418.42,107.59 418.48,108.33 418.55,111.42 418.61,110.93 418.68,110.99 418.74,111.83 418.81,112.65 418.87,112.96 418.94,112.93 419,112.38 419.09,113.24 419.19,114.39 419.28,115.88 419.37,116.83 419.47,117.53 419.56,118.95 419.65,120.7 419.74,120.66 419.83,120.74 419.92,122.68 420.01,121.85 420.11,122.7 420.2,123.69 420.3,124.82 420.39,125.48 420.49,125.56 420.59,127.05 420.69,126.45 420.79,128.5 420.89,128.29 421,129.38 421.2,129 421.41,131.49 421.62,131.57 421.83,133.44 422.05,133.73 422.27,134.3 422.5,134.86 422.73,135.16 422.98,135.7 423.23,136.58 423.5,136.61 423.92,138.06 424.24,138.27 424.59,138.56 425.09,139.48 425.86,139.72 427,139.31 427.46,140.03 427.91,140.03 428.37,139.89 428.84,139.7 429.32,140.28 429.83,140.3 430.37,140.03 430.95,139.89 431.56,140.06 432.23,139.93 432.94,140.64 433.72,139.87 434.57,140.02 435.48,140.53 436.48,139.91 437.56,139.91 438.73,139.9 440,140 440.5,140.33 441.03,140.61 441.59,140.02 442.18,140.03 442.8,140.57 443.44,140.26 444.1,140.19 444.79,140 445.5,140.11 446.22,140.77 446.97,140.01 447.73,140.14 448.51,140.57 449.3,140.71 450.1,140.73 450.91,140.34 451.73,140.78 452.57,140.46 453.4,140.18 454.25,140.34 455.09,140.57 455.94,140.59 456.79,140.05 457.64,140.1 458.49,140.79 459.33,140.03 460.17,140.67 461,140.24 461.82,140.16 462.64,140.17 463.45,140.36 464.24,140.83 465.02,140.07 465.78,140.71 466.53,140.23 467.26,140.1 467.97,140.61 468.66,140.25 469.33,140.11 469.98,140.32 470.6,140.68 471.19,140.72 471.76,140.46 472.3,139.96 472.81,140.63 473.28,140.49 473.72,140.76 474.13,140.81 474.5,140.24" fill="none" stroke="#c4243c" stroke-width="1.35" stroke-linejoin="round"/>
<text transform="translate(379.2,32.6) scale(1,1.06)" font-size="8.8" font-weight="bold" stroke="#000" stroke-width="0.12">PBS</text>
<text transform="translate(399.2,32.6) scale(1,1.06)" font-size="8.8" fill="#23692f" stroke="#23692f" stroke-width="0.45">IgG<tspan dy="2.2" font-size="5.4">2a</tspan><tspan dy="-2.2"></tspan></text>
<text transform="translate(417.8,54) scale(1,1.06)" font-size="8.7" fill="#c4243c" stroke="#c4243c" stroke-width="0.45">RL90</text>
<text transform="translate(364,83.2) rotate(-90)" font-size="9.2" font-weight="bold" text-anchor="middle" stroke="#000" stroke-width="0.15">Cell count</text>
<text transform="translate(476.5,163.3) scale(1,1.06)" font-size="9.85" text-anchor="end" stroke="#000" stroke-width="0.45">PDI antigen expression</text>
<text transform="translate(0,184.4) scale(1,1.06)" font-size="13.6" font-weight="bold" stroke="#000" stroke-width="0.5">C</text>
<line x1="56" y1="190.3" x2="56" y2="317.5" stroke="#000" stroke-width="1.45"/>
<line x1="53" y1="317" x2="56" y2="317" stroke="#000" stroke-width="1.45"/>
<text transform="translate(47.6,320) scale(1,1.06)" font-size="9.6" text-anchor="end" stroke="#000" stroke-width="0.45">0</text>
<line x1="53" y1="285.45" x2="56" y2="285.45" stroke="#000" stroke-width="1.45"/>
<text transform="translate(47.6,288.45) scale(1,1.06)" font-size="9.6" text-anchor="end" stroke="#000" stroke-width="0.45">3000</text>
<line x1="53" y1="253.9" x2="56" y2="253.9" stroke="#000" stroke-width="1.45"/>
<text transform="translate(47.6,256.9) scale(1,1.06)" font-size="9.6" text-anchor="end" stroke="#000" stroke-width="0.45">6000</text>
<line x1="53" y1="222.35" x2="56" y2="222.35" stroke="#000" stroke-width="1.45"/>
<text transform="translate(47.6,225.35) scale(1,1.06)" font-size="9.6" text-anchor="end" stroke="#000" stroke-width="0.45">9000</text>
<line x1="53" y1="190.8" x2="56" y2="190.8" stroke="#000" stroke-width="1.45"/>
<text transform="translate(47.6,193.8) scale(1,1.06)" font-size="9.6" text-anchor="end" stroke="#000" stroke-width="0.45">12000</text>
<line x1="55.5" y1="317" x2="188.5" y2="317" stroke="#000" stroke-width="1.45"/>
<line x1="56" y1="317" x2="56" y2="320" stroke="#000" stroke-width="1.45"/>
<line x1="82.5" y1="317" x2="82.5" y2="320" stroke="#000" stroke-width="1.45"/>
<line x1="109" y1="317" x2="109" y2="320" stroke="#000" stroke-width="1.45"/>
<line x1="135.5" y1="317" x2="135.5" y2="320" stroke="#000" stroke-width="1.45"/>
<line x1="162" y1="317" x2="162" y2="320" stroke="#000" stroke-width="1.45"/>
<line x1="188.5" y1="317" x2="188.5" y2="320" stroke="#000" stroke-width="1.45"/>
<rect x="61.25" y="300.5" width="17" height="16.5" fill="#fff" stroke="#000" stroke-width="1"/>
<line x1="69.75" y1="300" x2="69.75" y2="298" stroke="#000" stroke-width="1.3"/>
<line x1="67.45" y1="298" x2="72.05" y2="298" stroke="#000" stroke-width="1.3"/>
<rect x="85.95" y="219.25" width="19.35" height="97.75" fill="#000"/>
<line x1="95.62" y1="219.25" x2="95.62" y2="211.75" stroke="#000" stroke-width="1.3"/>
<line x1="93.33" y1="211.75" x2="97.92" y2="211.75" stroke="#000" stroke-width="1.3"/>
<rect x="112.7" y="223.75" width="18.85" height="93.25" fill="#000"/>
<line x1="122.12" y1="223.75" x2="122.12" y2="217" stroke="#000" stroke-width="1.3"/>
<line x1="119.83" y1="217" x2="124.42" y2="217" stroke="#000" stroke-width="1.3"/>
<rect x="139.2" y="217.5" width="18.6" height="99.5" fill="#000"/>
<line x1="148.5" y1="217.5" x2="148.5" y2="208" stroke="#000" stroke-width="1.3"/>
<line x1="146.2" y1="208" x2="150.8" y2="208" stroke="#000" stroke-width="1.3"/>
<rect x="165.2" y="277.5" width="18.85" height="39.5" fill="#000"/>
<line x1="174.62" y1="277.5" x2="174.62" y2="268" stroke="#000" stroke-width="1.3"/>
<line x1="172.32" y1="268" x2="176.93" y2="268" stroke="#000" stroke-width="1.3"/>
<rect x="59.2" y="191.3" width="11.2" height="6.4" fill="#fff" stroke="#111" stroke-width="1"/>
<rect x="58.7" y="202.2" width="12.2" height="6.7" fill="#000"/>
<text transform="translate(73.1,197.6) scale(1,1.06)" font-size="8.8" stroke="#000" stroke-width="0.45">Control</text>
<text transform="translate(73.1,208.8) scale(1,1.06)" font-size="8.8" stroke="#000" stroke-width="0.45">THP1</text>
<text transform="translate(17.6,250.5) rotate(-90)" font-size="9.8" text-anchor="middle" stroke="#000" stroke-width="0.45">PDI activity (FU/10<tspan dy="-3.6" font-size="6.6">5</tspan><tspan dy="3.6"> cells)</tspan></text>
<text transform="translate(66.6,323.6) rotate(90)" font-size="9.8" stroke="#000" stroke-width="0.45">PBS</text>
<text transform="translate(92.8,323.6) rotate(90)" font-size="9.8" stroke="#000" stroke-width="0.45">PBS</text>
<text transform="translate(118.8,323.6) rotate(90)" font-size="9.8" stroke="#000" stroke-width="0.45">IgG</text>
<text transform="translate(145.6,323.6) rotate(90)" font-size="9.8" stroke="#000" stroke-width="0.45">ATG</text>
<text transform="translate(177.6,323.6) rotate(90)" font-size="9.8" stroke="#000" stroke-width="0.45">Rutin</text>
<text transform="translate(165.2,323.6) rotate(90)" font-size="9.8" stroke="#000" stroke-width="0.45">100 µM</text>
<text transform="translate(189.3,184.8) scale(1,1.06)" font-size="13.6" font-weight="bold" stroke="#000" stroke-width="0.5">D</text>
<line x1="226.3" y1="189.5" x2="226.3" y2="316.1" stroke="#000" stroke-width="1.45"/>
<line x1="223.3" y1="315.6" x2="226.3" y2="315.6" stroke="#000" stroke-width="1.45"/>
<text transform="translate(218,319.1) scale(1,1.06)" font-size="9.2" text-anchor="end" stroke="#000" stroke-width="0.45">0</text>
<line x1="223.3" y1="294.67" x2="226.3" y2="294.67" stroke="#000" stroke-width="1.45"/>
<text transform="translate(218,298.17) scale(1,1.06)" font-size="9.2" text-anchor="end" stroke="#000" stroke-width="0.45">20</text>
<line x1="223.3" y1="273.73" x2="226.3" y2="273.73" stroke="#000" stroke-width="1.45"/>
<text transform="translate(218,277.23) scale(1,1.06)" font-size="9.2" text-anchor="end" stroke="#000" stroke-width="0.45">40</text>
<line x1="223.3" y1="252.8" x2="226.3" y2="252.8" stroke="#000" stroke-width="1.45"/>
<text transform="translate(218,256.3) scale(1,1.06)" font-size="9.2" text-anchor="end" stroke="#000" stroke-width="0.45">60</text>
<line x1="223.3" y1="231.87" x2="226.3" y2="231.87" stroke="#000" stroke-width="1.45"/>
<text transform="translate(218,235.37) scale(1,1.06)" font-size="9.2" text-anchor="end" stroke="#000" stroke-width="0.45">80</text>
<line x1="223.3" y1="210.93" x2="226.3" y2="210.93" stroke="#000" stroke-width="1.45"/>
<text transform="translate(218,214.43) scale(1,1.06)" font-size="9.2" text-anchor="end" stroke="#000" stroke-width="0.45">100</text>
<line x1="223.3" y1="190" x2="226.3" y2="190" stroke="#000" stroke-width="1.45"/>
<text transform="translate(218,193.5) scale(1,1.06)" font-size="9.2" text-anchor="end" stroke="#000" stroke-width="0.45">120</text>
<line x1="225.8" y1="315.6" x2="334" y2="315.6" stroke="#000" stroke-width="1.45"/>
<line x1="226.3" y1="315.6" x2="226.3" y2="318.6" stroke="#000" stroke-width="1.45"/>
<line x1="253.2" y1="315.6" x2="253.2" y2="318.6" stroke="#000" stroke-width="1.45"/>
<line x1="280.1" y1="315.6" x2="280.1" y2="318.6" stroke="#000" stroke-width="1.45"/>
<line x1="307.1" y1="315.6" x2="307.1" y2="318.6" stroke="#000" stroke-width="1.45"/>
<line x1="334" y1="315.6" x2="334" y2="318.6" stroke="#000" stroke-width="1.45"/>
<rect x="231.25" y="312.25" width="17.5" height="3.35" fill="#fff" stroke="#000" stroke-width="1"/>
<rect x="258.5" y="313.5" width="17.25" height="2.1" fill="#fff" stroke="#000" stroke-width="1"/>
<rect x="284.7" y="210" width="18.85" height="105.6" fill="#000"/>
<line x1="294.12" y1="210" x2="294.12" y2="196.3" stroke="#000" stroke-width="1.3"/>
<line x1="291.82" y1="196.3" x2="296.43" y2="196.3" stroke="#000" stroke-width="1.3"/>
<rect x="311.45" y="255.75" width="19.85" height="59.85" fill="#000"/>
<line x1="321.38" y1="255.75" x2="321.38" y2="249" stroke="#000" stroke-width="1.3"/>
<line x1="319.07" y1="249" x2="323.68" y2="249" stroke="#000" stroke-width="1.3"/>
<rect x="229.5" y="190.5" width="10.5" height="6.7" fill="#fff" stroke="#111" stroke-width="1"/>
<rect x="229" y="201" width="11.5" height="7.8" fill="#000"/>
<text transform="translate(243.4,196.9) scale(1,1.06)" font-size="9.2" stroke="#000" stroke-width="0.45">IgG</text>
<text transform="translate(243.4,208) scale(1,1.06)" font-size="9.2" stroke="#000" stroke-width="0.45">ATG</text>
<line x1="294.5" y1="190" x2="320" y2="190" stroke="#000" stroke-width="1.4"/>
<text transform="translate(307.2,187.8) scale(1,1.06)" font-size="8.2" text-anchor="middle" stroke="#000" stroke-width="0.3">P&lt;0.05</text>
<text transform="translate(267.8,330.4) scale(1,1.06)" font-size="9.6" text-anchor="middle" stroke="#000" stroke-width="0.45">Rutin</text>
<text transform="translate(321.5,330.4) scale(1,1.06)" font-size="9.6" text-anchor="middle" stroke="#000" stroke-width="0.45">Rutin</text>
<text transform="translate(196,252.5) rotate(-90)" font-size="9.8" text-anchor="middle" stroke="#000" stroke-width="0.45">PCA (%)</text>
<text transform="translate(340.8,184.4) scale(1,1.06)" font-size="13.6" font-weight="bold" stroke="#000" stroke-width="0.5">E</text>
<line x1="389" y1="189.8" x2="389" y2="316.7" stroke="#000" stroke-width="1.45"/>
<line x1="386" y1="316.2" x2="389" y2="316.2" stroke="#000" stroke-width="1.45"/>
<text transform="translate(380.3,319.2) scale(1,1.06)" font-size="9.6" text-anchor="end" stroke="#000" stroke-width="0.45">0</text>
<line x1="386" y1="274.23" x2="389" y2="274.23" stroke="#000" stroke-width="1.45"/>
<text transform="translate(380.3,277.23) scale(1,1.06)" font-size="9.6" text-anchor="end" stroke="#000" stroke-width="0.45">2000</text>
<line x1="386" y1="232.27" x2="389" y2="232.27" stroke="#000" stroke-width="1.45"/>
<text transform="translate(380.3,235.27) scale(1,1.06)" font-size="9.6" text-anchor="end" stroke="#000" stroke-width="0.45">4000</text>
<line x1="386" y1="190.3" x2="389" y2="190.3" stroke="#000" stroke-width="1.45"/>
<text transform="translate(380.3,193.3) scale(1,1.06)" font-size="9.6" text-anchor="end" stroke="#000" stroke-width="0.45">6000</text>
<line x1="388.5" y1="316" x2="519.2" y2="316" stroke="#000" stroke-width="1.45"/>
<line x1="389" y1="316" x2="389" y2="319" stroke="#000" stroke-width="1.45"/>
<line x1="415" y1="316" x2="415" y2="319" stroke="#000" stroke-width="1.45"/>
<line x1="441.5" y1="316" x2="441.5" y2="319" stroke="#000" stroke-width="1.45"/>
<line x1="467.5" y1="316" x2="467.5" y2="319" stroke="#000" stroke-width="1.45"/>
<line x1="493.4" y1="316" x2="493.4" y2="319" stroke="#000" stroke-width="1.45"/>
<line x1="519.2" y1="316" x2="519.2" y2="319" stroke="#000" stroke-width="1.45"/>
<rect x="394" y="312.7" width="17.3" height="3.5" fill="#fff" stroke="#000" stroke-width="1"/>
<line x1="402.65" y1="312.2" x2="402.65" y2="311.4" stroke="#000" stroke-width="1.3"/>
<line x1="400.35" y1="311.4" x2="404.95" y2="311.4" stroke="#000" stroke-width="1.3"/>
<rect x="419.3" y="234.6" width="18" height="81.6" fill="#000"/>
<line x1="428.3" y1="234.6" x2="428.3" y2="202.3" stroke="#000" stroke-width="1.3"/>
<line x1="426" y1="202.3" x2="430.6" y2="202.3" stroke="#000" stroke-width="1.3"/>
<rect x="445.1" y="233.8" width="18.2" height="82.4" fill="#000"/>
<line x1="454.2" y1="233.8" x2="454.2" y2="199" stroke="#000" stroke-width="1.3"/>
<line x1="451.9" y1="199" x2="456.5" y2="199" stroke="#000" stroke-width="1.3"/>
<rect x="470.7" y="287.7" width="18.6" height="28.5" fill="#000"/>
<line x1="480" y1="287.7" x2="480" y2="267.5" stroke="#000" stroke-width="1.3"/>
<line x1="477.7" y1="267.5" x2="482.3" y2="267.5" stroke="#000" stroke-width="1.3"/>
<rect x="496" y="314" width="18.9" height="2.2" fill="#000"/>
<rect x="392.2" y="189.7" width="10.2" height="5.9" fill="#fff" stroke="#111" stroke-width="1"/>
<rect x="391.7" y="201" width="11.2" height="7.3" fill="#000"/>
<text transform="translate(406.1,195.9) scale(1,1.06)" font-size="9.2" stroke="#000" stroke-width="0.45">IgG</text>
<text transform="translate(406.1,208.3) scale(1,1.06)" font-size="9.2" stroke="#000" stroke-width="0.45">ATG</text>
<line x1="454" y1="195.6" x2="481" y2="195.6" stroke="#000" stroke-width="1.4"/>
<text transform="translate(467.2,193.2) scale(1,1.06)" font-size="8.2" text-anchor="middle" stroke="#000" stroke-width="0.3">P&lt;0.05</text>
<text transform="translate(352,254.4) rotate(-90)" font-size="9.8" text-anchor="middle" stroke="#000" stroke-width="0.45">PCA (units/10<tspan dy="-3.6" font-size="6.6">6</tspan><tspan dy="3.6"> cells)</tspan></text>
<text transform="translate(402.3,330.1) scale(1,1.06)" font-size="9.6" text-anchor="middle" stroke="#000" stroke-width="0.45">PBS</text>
<text transform="translate(428,330.1) scale(1,1.06)" font-size="9.6" text-anchor="middle" stroke="#000" stroke-width="0.45">PBS</text>
<text transform="translate(479.6,330.1) scale(1,1.06)" font-size="9.6" text-anchor="middle" stroke="#000" stroke-width="0.45">RL90</text>
<text transform="translate(505.6,330.1) scale(1,1.06)" font-size="9.6" text-anchor="middle" stroke="#000" stroke-width="0.45">αTF</text>
<text transform="translate(442.9,330.1) scale(1,1.06)" font-size="9.6" stroke="#000" stroke-width="0.45">IgG<tspan dy="2.2" font-size="6">2a</tspan><tspan dy="-2.2"></tspan></text>
<text transform="translate(0.4,366.4) scale(1,1.06)" font-size="13.6" font-weight="bold" stroke="#000" stroke-width="0.5">F</text>
<line x1="56.5" y1="364.3" x2="56.5" y2="491.5" stroke="#000" stroke-width="1.45"/>
<line x1="53.5" y1="491" x2="56.5" y2="491" stroke="#000" stroke-width="1.45"/>
<text transform="translate(48.4,494) scale(1,1.06)" font-size="9.6" text-anchor="end" stroke="#000" stroke-width="0.45">0</text>
<line x1="53.5" y1="459.45" x2="56.5" y2="459.45" stroke="#000" stroke-width="1.45"/>
<text transform="translate(48.4,462.45) scale(1,1.06)" font-size="9.6" text-anchor="end" stroke="#000" stroke-width="0.45">30</text>
<line x1="53.5" y1="427.9" x2="56.5" y2="427.9" stroke="#000" stroke-width="1.45"/>
<text transform="translate(48.4,430.9) scale(1,1.06)" font-size="9.6" text-anchor="end" stroke="#000" stroke-width="0.45">60</text>
<line x1="53.5" y1="396.35" x2="56.5" y2="396.35" stroke="#000" stroke-width="1.45"/>
<text transform="translate(48.4,399.35) scale(1,1.06)" font-size="9.6" text-anchor="end" stroke="#000" stroke-width="0.45">90</text>
<line x1="53.5" y1="364.8" x2="56.5" y2="364.8" stroke="#000" stroke-width="1.45"/>
<text transform="translate(48.4,367.8) scale(1,1.06)" font-size="9.6" text-anchor="end" stroke="#000" stroke-width="0.45">120</text>
<line x1="56" y1="491" x2="162.5" y2="491" stroke="#000" stroke-width="1.45"/>
<line x1="56.5" y1="491" x2="56.5" y2="494" stroke="#000" stroke-width="1.45"/>
<line x1="56.6" y1="491" x2="56.6" y2="494" stroke="#000" stroke-width="1.45"/>
<line x1="77.78" y1="491" x2="77.78" y2="494" stroke="#000" stroke-width="1.45"/>
<line x1="98.96" y1="491" x2="98.96" y2="494" stroke="#000" stroke-width="1.45"/>
<line x1="120.14" y1="491" x2="120.14" y2="494" stroke="#000" stroke-width="1.45"/>
<line x1="141.32" y1="491" x2="141.32" y2="494" stroke="#000" stroke-width="1.45"/>
<line x1="162.5" y1="491" x2="162.5" y2="494" stroke="#000" stroke-width="1.45"/>
<text transform="translate(56.6,507.1) scale(1,1.06)" font-size="9.6" text-anchor="middle" stroke="#000" stroke-width="0.45">0</text>
<text transform="translate(77.78,507.1) scale(1,1.06)" font-size="9.6" text-anchor="middle" stroke="#000" stroke-width="0.45">10</text>
<text transform="translate(98.96,507.1) scale(1,1.06)" font-size="9.6" text-anchor="middle" stroke="#000" stroke-width="0.45">20</text>
<text transform="translate(120.14,507.1) scale(1,1.06)" font-size="9.6" text-anchor="middle" stroke="#000" stroke-width="0.45">30</text>
<text transform="translate(141.32,507.1) scale(1,1.06)" font-size="9.6" text-anchor="middle" stroke="#000" stroke-width="0.45">40</text>
<text transform="translate(162.5,507.1) scale(1,1.06)" font-size="9.6" text-anchor="middle" stroke="#000" stroke-width="0.45">50</text>
<text transform="translate(110,521.3) scale(1,1.06)" font-size="9.8" text-anchor="middle" stroke="#000" stroke-width="0.45">RL90 (µg/ml)</text>
<text transform="translate(26.5,427.6) rotate(-90)" font-size="9.8" text-anchor="middle" stroke="#000" stroke-width="0.45">PCA (%)</text>
<polyline points="56.6,385.8 82.9,383.5 109.3,389 136.2,387.7 162.3,382.8" fill="none" stroke="#777" stroke-width="1.2" stroke-linejoin="round"/>
<polyline points="56.6,386 82.9,389.5 109.3,448.8 136.2,473.3 162.3,471.2" fill="none" stroke="#777" stroke-width="1.2" stroke-linejoin="round"/>
<line x1="56.6" y1="379.5" x2="56.6" y2="392.3" stroke="#000" stroke-width="0.9"/>
<line x1="54.6" y1="379.5" x2="58.6" y2="379.5" stroke="#000" stroke-width="0.9"/>
<line x1="54.6" y1="392.3" x2="58.6" y2="392.3" stroke="#000" stroke-width="0.9"/>
<line x1="82.9" y1="378.3" x2="82.9" y2="396.8" stroke="#000" stroke-width="0.9"/>
<line x1="80.9" y1="378.3" x2="84.9" y2="378.3" stroke="#000" stroke-width="0.9"/>
<line x1="80.9" y1="396.8" x2="84.9" y2="396.8" stroke="#000" stroke-width="0.9"/>
<line x1="109.3" y1="382.5" x2="109.3" y2="395.5" stroke="#000" stroke-width="0.9"/>
<line x1="107.3" y1="382.5" x2="111.3" y2="382.5" stroke="#000" stroke-width="0.9"/>
<line x1="107.3" y1="395.5" x2="111.3" y2="395.5" stroke="#000" stroke-width="0.9"/>
<circle cx="56.6" cy="386" r="4.1" fill="#000"/>
<circle cx="82.9" cy="389.5" r="4.1" fill="#000"/>
<circle cx="109.3" cy="448.8" r="4.1" fill="#000"/>
<circle cx="136.2" cy="473.3" r="4.1" fill="#000"/>
<circle cx="162.3" cy="471.2" r="4.1" fill="#000"/>
<circle cx="56.6" cy="385.8" r="3.7" fill="#fff" stroke="#000" stroke-width="1.2"/>
<circle cx="82.9" cy="383.5" r="3.7" fill="#fff" stroke="#000" stroke-width="1.2"/>
<circle cx="109.3" cy="389" r="3.7" fill="#fff" stroke="#000" stroke-width="1.2"/>
<circle cx="136.2" cy="387.7" r="3.7" fill="#fff" stroke="#000" stroke-width="1.2"/>
<circle cx="162.3" cy="382.8" r="3.7" fill="#fff" stroke="#000" stroke-width="1.2"/>
<text transform="translate(126.8,404.6) scale(1,1.06)" font-size="8.8" stroke="#000" stroke-width="0.45">post NHP</text>
<text transform="translate(131.4,458.3) scale(1,1.06)" font-size="8.8" stroke="#000" stroke-width="0.45">pre NHP</text>
<text transform="translate(195.6,366.2) scale(1,1.06)" font-size="13.6" font-weight="bold" stroke="#000" stroke-width="0.5">G</text>
<rect x="226.2" y="374.9" width="97.8" height="116.6" fill="none" stroke="#333" stroke-width="0.9"/>
<line x1="224" y1="491.5" x2="226.2" y2="491.5" stroke="#444" stroke-width="0.8"/>
<text transform="translate(-50,491.5) rotate(-90)" font-size="4.8" text-anchor="middle" fill="#333" stroke="#333" stroke-width="0.15"></text>
<line x1="225" y1="485.67" x2="226.2" y2="485.67" stroke="#888" stroke-width="0.6"/>
<line x1="225" y1="479.84" x2="226.2" y2="479.84" stroke="#888" stroke-width="0.6"/>
<line x1="225" y1="474.01" x2="226.2" y2="474.01" stroke="#888" stroke-width="0.6"/>
<line x1="224" y1="468.18" x2="226.2" y2="468.18" stroke="#444" stroke-width="0.8"/>
<text transform="translate(-50,468.18) rotate(-90)" font-size="4.8" text-anchor="middle" fill="#333" stroke="#333" stroke-width="0.15"></text>
<line x1="225" y1="462.35" x2="226.2" y2="462.35" stroke="#888" stroke-width="0.6"/>
<line x1="225" y1="456.52" x2="226.2" y2="456.52" stroke="#888" stroke-width="0.6"/>
<line x1="225" y1="450.69" x2="226.2" y2="450.69" stroke="#888" stroke-width="0.6"/>
<line x1="224" y1="444.86" x2="226.2" y2="444.86" stroke="#444" stroke-width="0.8"/>
<text transform="translate(-50,444.86) rotate(-90)" font-size="4.8" text-anchor="middle" fill="#333" stroke="#333" stroke-width="0.15"></text>
<line x1="225" y1="439.03" x2="226.2" y2="439.03" stroke="#888" stroke-width="0.6"/>
<line x1="225" y1="433.2" x2="226.2" y2="433.2" stroke="#888" stroke-width="0.6"/>
<line x1="225" y1="427.37" x2="226.2" y2="427.37" stroke="#888" stroke-width="0.6"/>
<line x1="224" y1="421.54" x2="226.2" y2="421.54" stroke="#444" stroke-width="0.8"/>
<text transform="translate(-50,421.54) rotate(-90)" font-size="4.8" text-anchor="middle" fill="#333" stroke="#333" stroke-width="0.15"></text>
<line x1="225" y1="415.71" x2="226.2" y2="415.71" stroke="#888" stroke-width="0.6"/>
<line x1="225" y1="409.88" x2="226.2" y2="409.88" stroke="#888" stroke-width="0.6"/>
<line x1="225" y1="404.05" x2="226.2" y2="404.05" stroke="#888" stroke-width="0.6"/>
<line x1="224" y1="398.22" x2="226.2" y2="398.22" stroke="#444" stroke-width="0.8"/>
<text transform="translate(-50,398.22) rotate(-90)" font-size="4.8" text-anchor="middle" fill="#333" stroke="#333" stroke-width="0.15"></text>
<line x1="225" y1="392.39" x2="226.2" y2="392.39" stroke="#888" stroke-width="0.6"/>
<line x1="225" y1="386.56" x2="226.2" y2="386.56" stroke="#888" stroke-width="0.6"/>
<line x1="225" y1="380.73" x2="226.2" y2="380.73" stroke="#888" stroke-width="0.6"/>
<line x1="224" y1="374.9" x2="226.2" y2="374.9" stroke="#444" stroke-width="0.8"/>
<text transform="translate(-50,374.9) rotate(-90)" font-size="4.8" text-anchor="middle" fill="#333" stroke="#333" stroke-width="0.15"></text>
<line x1="226.2" y1="491.5" x2="226.2" y2="493.5" stroke="#666" stroke-width="0.7"/>
<text transform="translate(225.6,500) scale(1,1.06)" font-size="4.8" text-anchor="middle" fill="#333" stroke="#333" stroke-width="0.15">10<tspan dy="-2.2" font-size="3.4">0</tspan><tspan dy="2.2"></tspan></text>
<line x1="250.6" y1="491.5" x2="250.6" y2="493.5" stroke="#666" stroke-width="0.7"/>
<text transform="translate(250,500) scale(1,1.06)" font-size="4.8" text-anchor="middle" fill="#333" stroke="#333" stroke-width="0.15">10<tspan dy="-2.2" font-size="3.4">1</tspan><tspan dy="2.2"></tspan></text>
<line x1="275" y1="491.5" x2="275" y2="493.5" stroke="#666" stroke-width="0.7"/>
<text transform="translate(274.4,500) scale(1,1.06)" font-size="4.8" text-anchor="middle" fill="#333" stroke="#333" stroke-width="0.15">10<tspan dy="-2.2" font-size="3.4">2</tspan><tspan dy="2.2"></tspan></text>
<line x1="299.3" y1="491.5" x2="299.3" y2="493.5" stroke="#666" stroke-width="0.7"/>
<text transform="translate(298.7,500) scale(1,1.06)" font-size="4.8" text-anchor="middle" fill="#333" stroke="#333" stroke-width="0.15">10<tspan dy="-2.2" font-size="3.4">3</tspan><tspan dy="2.2"></tspan></text>
<line x1="324" y1="491.5" x2="324" y2="493.5" stroke="#666" stroke-width="0.7"/>
<text transform="translate(323.4,500) scale(1,1.06)" font-size="4.8" text-anchor="middle" fill="#333" stroke="#333" stroke-width="0.15">10<tspan dy="-2.2" font-size="3.4">4</tspan><tspan dy="2.2"></tspan></text>
<polyline points="228,490.65 228.54,490.62 229.31,490.07 230.18,490.17 231,490.17 231.75,490.15 232.5,490.18 233.25,489.91 234,490.03 234.75,490.71 235.5,490.21 236.25,490.44 237,490.69 237.75,490.56 238.5,490.04 239.25,490.72 240,490.6 240.75,490.79 241.5,490.53 242.25,490.55 243,490.61 243.75,490.05 244.5,490.46 245.25,490.18 246,490.64 246.75,489.93 247.5,490.34 248.25,490.14 249,490.62 249.75,490.15 250.5,490.64 251.25,490.65 252,490.68 252.75,489.94 253.5,490.74 254.25,490.54 255,490.48 255.75,490.45 256.5,489.85 257.25,490.67 258,490.35 258.75,490.26 259.5,490.14 260.25,490.58 261,490.58 261.75,490.67 262.5,490.01 263.25,490.14 264,490.05 264.75,489.9 265.5,490.13 266.25,489.83 267,490.6 267.75,490.03 268.5,489.87 269.25,489.87 270,490.54 270.75,490 271.5,490.26 272.25,490.2 273,490.6 273.75,490.75 274.5,490.11 275.25,490.43 276,490.69 276.75,490.27 277.5,490.7 278.25,490.53 279,490.11 279.75,490.67 280.5,490.37 281.25,489.91 282,490.39 282.75,490.63 283.5,490.32 284.25,490.28 285,490.22 285.75,490.68 286.5,490.47 287.25,490.01 288,490.16 288.75,490.16 289.5,490.76 290.25,490.5 291,489.92 291.75,490.71 292.5,489.83 293.25,490.39 294,490.23 294.75,490.52 295.5,490.23 296.25,489.89 297,490.32 297.75,490.62 298.5,490.59 299.25,490.16 300,490.02 300.75,490.54 301.5,490.6 302.25,490.02 303,490.68 303.75,490.79 304.5,490.23 305.25,490.18 306,490.51 306.75,490.73 307.5,490 308.25,490.1 309,490.13 309.75,490.53 310.5,489.99 311.25,490.35 312,490.3 312.75,490.47 313.5,489.94 314.25,490.76 315,490.8 315.75,490.36 316.5,490.6 317.25,489.98 318,490.71 318.82,490.35 319.69,490.56 320.46,490.67 321,490.16" fill="none" stroke="#222" stroke-width="1.0" stroke-linejoin="round"/>
<polyline points="228.5,490.04 229.05,490.03 229.84,490.3 230.73,490.01 231.6,489.58 232.08,490.2 232.58,489.34 233.08,488.96 233.59,488.16 234.09,488.04 234.56,486.07 235,486.64 235.26,485.96 235.52,485.31 235.77,484.68 236.02,483.35 236.25,482.54 236.48,482.41 236.7,481.3 236.91,480.01 237.12,479.47 237.31,478.3 237.5,477.9 237.62,478.12 237.74,476.96 237.84,475.53 237.95,475.35 238.04,475.42 238.14,473.94 238.23,473.31 238.31,473.95 238.4,471.41 238.48,471.43 238.56,470.73 238.65,470.01 238.73,469.53 238.82,468.75 238.91,466.47 239,467.27 239.07,467.13 239.13,464.32 239.19,466 239.26,463.42 239.32,462.59 239.39,461.25 239.45,463.45 239.51,462.44 239.58,459.11 239.64,459.92 239.71,460.23 239.77,459.95 239.83,457.32 239.9,457.69 239.96,454.91 240.03,454.2 240.09,453.2 240.16,453.45 240.23,453.79 240.29,451.83 240.36,450.99 240.43,450.05 240.5,448.36 240.55,448.79 240.61,448.19 240.66,448.09 240.72,446.61 240.78,446.77 240.83,445.53 240.89,447.11 240.95,444.18 241,446 241.06,442.56 241.12,441.62 241.18,441.31 241.24,438.72 241.3,438.7 241.36,437.12 241.41,439.25 241.47,439.11 241.53,436.92 241.59,435.76 241.65,435.32 241.71,434.56 241.76,435.33 241.82,432.97 241.88,431.27 241.93,432.76 241.99,430.88 242.04,428.2 242.09,431.86 242.15,429.9 242.2,427.94 242.27,427.65 242.34,428.61 242.41,426.04 242.47,424.99 242.54,423.84 242.6,423.24 242.67,423.18 242.73,422.71 242.79,423.74 242.86,418.36 242.92,419.65 242.98,420.43 243.04,420.19 243.1,418.11 243.16,417.64 243.23,416.15 243.29,417.78 243.35,415.62 243.41,413.57 243.47,412.86 243.54,412.18 243.6,414.49 243.77,413.54 243.94,408.02 244.11,408.42 244.28,408.68 244.45,408.49 244.62,407.68 244.81,410.1 245,407.13 245.33,407.77 245.69,410.52 246.06,409.44 246.43,410.33 246.8,410.23 247.25,410.84 247.71,412.96 248.16,413.63 248.6,412.1 248.72,413.16 248.84,413.8 248.96,414.84 249.07,418.43 249.19,416.58 249.3,416.49 249.42,417.64 249.53,420.74 249.64,418.27 249.76,421.74 249.87,418.82 249.98,420.49 250.09,421.11 250.2,425.08 250.3,423.4 250.4,423.86 250.5,424.49 250.6,425.42 250.7,428.02 250.8,429.12 250.9,430.54 251,431.33 251.1,430.82 251.2,432.49 251.3,430.18 251.4,434.69 251.5,432.9 251.6,432.72 251.7,436.35 251.79,437.09 251.87,435.31 251.96,434.69 252.05,438.61 252.14,439.14 252.23,438.96 252.31,441.88 252.4,438.64 252.49,439.34 252.58,440.62 252.67,441.5 252.76,444.08 252.85,444.42 252.94,443.39 253.03,444.35 253.12,445.87 253.21,447.94 253.3,448.54 253.39,450.04 253.49,448.44 253.58,451.48 253.67,451.16 253.76,451.5 253.84,451.17 253.93,452.4 254.02,454.97 254.11,456.28 254.21,455.81 254.3,454.49 254.39,455.99 254.49,456.59 254.59,457.68 254.69,459.18 254.79,458.35 254.9,460.21 255.03,461.71 255.15,459.84 255.29,462.8 255.42,463.5 255.56,463.89 255.7,464.49 255.85,466.19 255.99,466 256.14,466.72 256.28,467.96 256.43,469.31 256.57,469.68 256.72,470.97 256.86,470.18 257,470 257.17,471.22 257.34,472.19 257.51,473.33 257.67,472.39 257.83,475.47 258,476.65 258.17,476.66 258.34,475.27 258.52,478.02 258.7,477.85 258.9,478.59 259.1,479.54 259.41,480.42 259.73,480.99 260.06,482.02 260.4,483.42 260.76,483.84 261.14,483.53 261.56,483.26 262,484.31 262.55,484.33 263.14,486.32 263.76,486.66 264.42,486.93 265.09,487.84 265.79,487.26 266.5,488.13 267.05,488.23 267.51,488.09 267.94,488.25 268.41,488.47 268.98,489.07 269.72,489.9 270.71,489.44 272,489.93 272.5,489.88 273.04,489.97 273.63,489.85 274.26,490.65 274.93,489.79 275.63,489.54 276.36,489.6 277.11,490.51 277.89,490.58 278.68,490.27 279.49,489.88 280.31,490.48 281.13,490.53 281.95,489.61 282.78,489.99 283.59,490.3 284.4,489.73 285.19,489.65 285.96,490.11 286.71,490.59 287.44,490.88 288.13,490.04 288.79,490.58 289.42,490.55 290,490.71 290.97,490.2 291.89,490.79 292.76,490.26 293.59,490.63 294.37,490.33 295.11,489.87 295.81,490.24 296.48,489.93 297.13,489.76 297.74,489.85 298.33,489.92 298.9,489.79 299.46,489.47 300,489.18 300.99,489.51 301.82,488.84 302.55,488.04 303.19,488.44 303.79,486.9 304.38,487.48 305,486.26 305.86,487.62 306.67,486.93 307.45,487.18 308.22,486.19 309,486.45 309.8,487.07 310.6,486.61 311.4,487.24 312.2,486.5 313,487.16 313.82,487.06 314.65,487.79 315.47,487.23 316.26,486.46 317,486.32 317.82,486.9 318.56,487.51 319.27,487.98 320,488.21 320.82,489.54 321.69,489.45 322.46,489.21 323,489.81" fill="none" stroke="#111" stroke-width="1.35" stroke-linejoin="round"/>
<polyline points="226.5,490.61 227.09,490.77 227.96,489.99 229,490.09 229.58,489.42 230.23,489.2 230.91,487.82 231.62,487.71 232.32,487.21 233,487.47 233.58,486.46 234.17,486.39 234.77,485.95 235.36,485.51 235.92,483.8 236.44,484.18 236.9,482.67 237.25,483.71 237.55,482.74 237.81,481.74 238.06,480.88 238.28,479.49 238.51,479.79 238.75,478.98 239,479.15 239.22,478.33 239.43,477.58 239.65,476.07 239.87,474.89 240.09,474.11 240.31,475.13 240.53,471.78 240.75,470.89 240.98,470.81 241.2,471.86 241.52,470.5 241.83,468.45 242.15,469.7 242.47,468.64 242.8,466.52 243.14,465.34 243.5,466.83 244.19,464.66 244.93,463.76 245.68,465.76 246.4,464.17 247.29,464.11 248.14,465.26 249,463.82 249.66,464.18 250.31,464.52 250.99,464.67 251.7,465.43 251.9,466.67 252.1,468.24 252.31,467.4 252.52,469.56 252.73,469.68 252.95,469.78 253.17,469.7 253.38,472.47 253.6,473.21 253.82,473.01 254.04,473.7 254.26,475.49 254.47,476.85 254.69,476.09 254.9,476.83 255.35,478.18 255.79,478.69 256.23,478.22 256.66,480.08 257.1,481.2 257.55,480.77 258,481.27 258.64,481.12 259.29,482.05 259.94,482.52 260.61,483.36 261.3,483.05 261.8,483.73 262.3,482.41 262.81,483.27 263.32,481.99 263.86,482.32 264.42,479.96 265,479.88 265.33,478.81 265.69,477.96 266.06,478.63 266.43,478.66 266.82,477.02 267.21,477.64 267.6,475.56 267.99,475.81 268.36,473.78 268.72,473.47 269.07,472.94 269.4,472.65 269.7,472.29 269.98,471.56 270.24,471.05 270.48,469.54 270.71,469.86 270.93,467.37 271.14,467.42 271.34,468.13 271.53,466.25 271.72,466.8 271.91,463.81 272.1,464.66 272.3,462.76 272.5,461.7 272.7,461.16 272.9,460.36 273.1,460.61 273.3,459.79 273.5,459.64 273.69,458.57 273.88,458.39 274.07,457.39 274.26,458.72 274.45,455.45 274.63,454.9 274.82,454.73 275,453.6 275.17,454.79 275.33,451.49 275.49,452.76 275.66,450.41 275.82,450.02 275.97,450.32 276.13,448.89 276.29,447.59 276.44,446.15 276.59,448.64 276.75,445.12 276.9,443.88 277.05,445.11 277.2,444.22 277.36,442.45 277.52,441.53 277.67,443.38 277.82,440.32 277.97,440.45 278.12,441.43 278.27,438.6 278.42,438.34 278.57,435.97 278.72,437.91 278.88,436.54 279.04,435.77 279.2,433.93 279.35,433.21 279.49,434.48 279.65,432.12 279.8,433.17 279.96,430.51 280.11,431.18 280.27,427.01 280.43,427.44 280.59,429.72 280.74,428.41 280.9,427.08 281.05,425.65 281.21,424.69 281.35,423.61 281.5,422.33 281.92,423.5 282.33,422.88 282.72,419.67 283.11,421.41 283.5,418.47 283.78,420.72 284.05,418.97 284.32,421.52 284.59,421.75 284.86,423 285.13,422.27 285.4,425.19 285.53,425.81 285.67,424 285.8,425.64 285.93,427.69 286.05,428.12 286.18,428.93 286.31,429.57 286.44,429.61 286.58,428.64 286.71,430 286.85,432.94 287,433.24 287.15,434.48 287.3,434.32 287.36,435.3 287.43,437.35 287.49,438.16 287.56,437.24 287.62,435.82 287.69,438.93 287.76,436.57 287.83,441.23 287.9,441.82 287.97,441.92 288.05,440.4 288.12,443.53 288.19,441.79 288.27,444.91 288.34,444.53 288.41,443.53 288.49,447.92 288.56,446.67 288.64,449.58 288.71,449.45 288.78,449.52 288.86,451.47 288.93,450.53 289,452.95 289.08,452.48 289.15,451.53 289.22,454.19 289.29,453.5 289.36,454.44 289.42,457.23 289.49,455.51 289.55,456.28 289.62,457.98 289.68,458.45 289.74,461.17 289.8,461.23 289.91,462.32 290.01,463.31 290.12,462.84 290.21,464.58 290.31,464.23 290.4,466.55 290.49,466.95 290.58,467.82 290.67,466.61 290.76,467.66 290.84,470.19 290.92,469.59 291.01,470.25 291.09,471.88 291.17,470.72 291.25,472.88 291.33,472.58 291.42,473.97 291.5,474.29 291.62,473.98 291.72,477.19 291.82,476.49 291.92,478.33 292.01,479.21 292.11,478.13 292.21,480.25 292.31,480.2 292.42,480.18 292.54,481.64 292.68,483.14 292.83,482.99 293,483.57 293.25,483.87 293.52,484.8 293.82,485.79 294.13,486.56 294.46,487.7 294.8,487.41 295.14,488.16 295.49,489.06 295.85,489.15 296.2,490.03 296.98,489.88 297.86,490.46 298.72,490.6 299.47,490.67 300,489.94" fill="none" stroke="#23692f" stroke-width="1.2" stroke-linejoin="round"/>
<polyline points="226.5,490.02 227.09,491.09 227.96,490.84 229,489.35 229.58,489.7 230.23,489.45 230.91,488.15 231.62,488.64 232.32,487.86 233,486.76 233.58,485.93 234.17,485.39 234.77,486.64 235.36,485.72 235.92,485.55 236.44,484.26 236.9,482.82 237.25,483.2 237.55,482.5 237.81,481.52 238.06,480.67 238.28,481.46 238.51,479.51 238.75,479.78 239,476.87 239.22,477.52 239.43,476.84 239.65,476.09 239.87,474.69 240.09,474.95 240.31,473.63 240.53,473.39 240.75,472.11 240.98,471.09 241.2,470.29 241.52,470.59 241.83,468.47 242.15,468.3 242.47,466.05 242.8,465.95 243.14,466.76 243.5,464.89 244.19,466.68 244.93,463.92 245.68,465.29 246.4,463.49 247.29,464.32 248.14,464.57 249,463.59 249.66,464.73 250.31,465.47 250.99,464.81 251.7,467.41 251.9,466.72 252.1,466.73 252.31,468.95 252.52,467.72 252.73,468.29 252.95,469.15 253.17,470.59 253.38,471.93 253.6,472.89 253.82,474.41 254.04,473.8 254.26,474.48 254.47,477.38 254.69,476.81 254.9,477.81 255.35,478.14 255.79,478.3 256.23,480.51 256.66,479.87 257.1,481.2 257.55,481.27 258,481.85 258.64,481.89 259.29,483.15 259.94,482.64 260.61,484.21 261.3,483.8 261.8,483.86 262.3,482.53 262.81,483.7 263.32,481.66 263.86,482.65 264.42,481.24 265,480.78 265.33,480.17 265.69,480.38 266.06,477.81 266.43,478.05 266.82,478.6 267.21,476.09 267.6,475.57 267.99,474.39 268.36,475.39 268.72,474.77 269.07,473.34 269.4,472.36 269.7,473.34 269.98,472.2 270.24,469.69 270.48,470.48 270.71,469.37 270.93,467.79 271.14,466.62 271.34,467.56 271.53,467.91 271.72,465.76 271.91,465.8 272.1,465.28 272.3,461.98 272.5,461.24 272.7,462.32 272.9,461.26 273.1,462.22 273.3,462.55 273.5,459.25 273.69,459.55 273.88,458.46 274.07,455.9 274.26,459.01 274.45,455.14 274.63,454.01 274.82,454.35 275,451.87 275.17,452.85 275.33,452.21 275.49,453.32 275.66,451.57 275.82,451.74 275.97,450.21 276.13,448.55 276.29,446.74 276.44,446.55 276.59,447.22 276.75,446.32 276.9,445.51 277.05,445.16 277.2,443.23 277.36,443.74 277.52,444.54 277.67,439.97 277.82,439.83 277.97,438.82 278.12,438.48 278.27,437.14 278.42,438.78 278.57,439.61 278.72,437.51 278.88,437.53 279.04,437.04 279.2,435.41 279.35,434.01 279.49,430.59 279.65,432.11 279.8,430.08 279.96,431.95 280.11,428.56 280.27,429.28 280.43,428.02 280.59,427.42 280.74,426.2 280.9,424.11 281.05,427.27 281.21,426.38 281.35,425.31 281.5,422 281.92,423.64 282.33,423.53 282.72,423.42 283.11,421.52 283.5,418.37 283.78,421.86 284.05,422.49 284.32,420.76 284.59,424.23 284.86,424.79 285.13,425.16 285.4,423.59 285.53,425.42 285.67,425.99 285.8,424.78 285.93,428.04 286.05,428.58 286.18,427.73 286.31,429.14 286.44,430.8 286.58,429.8 286.71,432.83 286.85,431.54 287,434.99 287.15,431.38 287.3,435.05 287.36,435.64 287.43,437.29 287.49,439.11 287.56,437.31 287.62,438.31 287.69,438.02 287.76,439.67 287.83,439.68 287.9,442.17 287.97,438.96 288.05,441.52 288.12,443.7 288.19,441.14 288.27,445.64 288.34,443.17 288.41,446.62 288.49,447.55 288.56,445.54 288.64,448.05 288.71,447.41 288.78,450.34 288.86,449.75 288.93,451.22 289,451.67 289.08,453.51 289.15,455.32 289.22,455.15 289.29,456.91 289.36,455.19 289.42,456.04 289.49,456.83 289.55,457.47 289.62,459.77 289.68,457.55 289.74,459.52 289.8,460.79 289.91,461.88 290.01,460.49 290.12,462.77 290.21,464.05 290.31,465.49 290.4,464.99 290.49,466.65 290.58,467.17 290.67,467.32 290.76,468.91 290.84,467.56 290.92,469.32 291.01,469.12 291.09,470.68 291.17,471.8 291.25,472.32 291.33,473.38 291.42,472.83 291.5,474.78 291.62,474.5 291.72,475.68 291.82,477.95 291.92,477.22 292.01,477.28 292.11,479.41 292.21,479.67 292.31,479.68 292.42,480.73 292.54,481.47 292.68,483.32 292.83,481.96 293,483.12 293.25,485.31 293.52,484.87 293.82,485.75 294.13,486.45 294.46,486.82 294.8,487.54 295.14,488.26 295.49,488.43 295.85,489.65 296.2,489.8 296.98,490.07 297.86,490.53 298.72,490.9 299.47,490.73 300,490.16" fill="none" stroke="#2c2cb8" stroke-width="1.35" stroke-linejoin="round"/>
<line x1="226.8" y1="467.6" x2="226.8" y2="491" stroke="#24249c" stroke-width="1.3"/>
<text transform="translate(238,397.6) scale(1,1.06)" font-size="9" stroke="#000" stroke-width="0.45">IgG</text>
<text transform="translate(255.4,402.9) scale(1,1.06)" font-size="8.8" font-weight="bold" fill="#24249c" stroke="#24249c" stroke-width="0.12">ATG + RL90</text>
<text transform="translate(273.2,415.6) scale(1,1.06)" font-size="8.8" font-weight="bold" fill="#23692f" stroke="#23692f" stroke-width="0.12">ATG + IgG<tspan dy="2" font-size="5.2">2a</tspan><tspan dy="-2"></tspan></text>
<text transform="translate(213.4,432.7) rotate(-90)" font-size="9.8" text-anchor="middle" stroke="#000" stroke-width="0.45">Cell count</text>
<text transform="translate(275.4,513.8) scale(1,1.06)" font-size="9.7" text-anchor="middle" stroke="#000" stroke-width="0.45">Annexin V staining</text>
<text transform="translate(354.6,366.4) scale(1,1.06)" font-size="13.6" font-weight="bold" stroke="#000" stroke-width="0.5">H</text>
<rect x="385.9" y="375.5" width="109.5" height="116.5" fill="none" stroke="#333" stroke-width="0.9"/>
<line x1="383.7" y1="492" x2="385.9" y2="492" stroke="#444" stroke-width="0.8"/>
<text transform="translate(382.2,492) rotate(-90)" font-size="4.8" text-anchor="middle" fill="#333" stroke="#333" stroke-width="0.15">0</text>
<line x1="384.7" y1="486.18" x2="385.9" y2="486.18" stroke="#888" stroke-width="0.6"/>
<line x1="384.7" y1="480.35" x2="385.9" y2="480.35" stroke="#888" stroke-width="0.6"/>
<line x1="384.7" y1="474.52" x2="385.9" y2="474.52" stroke="#888" stroke-width="0.6"/>
<line x1="383.7" y1="468.7" x2="385.9" y2="468.7" stroke="#444" stroke-width="0.8"/>
<text transform="translate(382.2,468.7) rotate(-90)" font-size="4.8" text-anchor="middle" fill="#333" stroke="#333" stroke-width="0.15">50</text>
<line x1="384.7" y1="462.88" x2="385.9" y2="462.88" stroke="#888" stroke-width="0.6"/>
<line x1="384.7" y1="457.05" x2="385.9" y2="457.05" stroke="#888" stroke-width="0.6"/>
<line x1="384.7" y1="451.22" x2="385.9" y2="451.22" stroke="#888" stroke-width="0.6"/>
<line x1="383.7" y1="445.4" x2="385.9" y2="445.4" stroke="#444" stroke-width="0.8"/>
<text transform="translate(382.2,445.4) rotate(-90)" font-size="4.8" text-anchor="middle" fill="#333" stroke="#333" stroke-width="0.15">100</text>
<line x1="384.7" y1="439.57" x2="385.9" y2="439.57" stroke="#888" stroke-width="0.6"/>
<line x1="384.7" y1="433.75" x2="385.9" y2="433.75" stroke="#888" stroke-width="0.6"/>
<line x1="384.7" y1="427.92" x2="385.9" y2="427.92" stroke="#888" stroke-width="0.6"/>
<line x1="383.7" y1="422.1" x2="385.9" y2="422.1" stroke="#444" stroke-width="0.8"/>
<text transform="translate(382.2,422.1) rotate(-90)" font-size="4.8" text-anchor="middle" fill="#333" stroke="#333" stroke-width="0.15">150</text>
<line x1="384.7" y1="416.28" x2="385.9" y2="416.28" stroke="#888" stroke-width="0.6"/>
<line x1="384.7" y1="410.45" x2="385.9" y2="410.45" stroke="#888" stroke-width="0.6"/>
<line x1="384.7" y1="404.62" x2="385.9" y2="404.62" stroke="#888" stroke-width="0.6"/>
<line x1="383.7" y1="398.8" x2="385.9" y2="398.8" stroke="#444" stroke-width="0.8"/>
<text transform="translate(382.2,398.8) rotate(-90)" font-size="4.8" text-anchor="middle" fill="#333" stroke="#333" stroke-width="0.15">200</text>
<line x1="384.7" y1="392.98" x2="385.9" y2="392.98" stroke="#888" stroke-width="0.6"/>
<line x1="384.7" y1="387.15" x2="385.9" y2="387.15" stroke="#888" stroke-width="0.6"/>
<line x1="384.7" y1="381.32" x2="385.9" y2="381.32" stroke="#888" stroke-width="0.6"/>
<line x1="383.7" y1="375.5" x2="385.9" y2="375.5" stroke="#444" stroke-width="0.8"/>
<text transform="translate(382.2,375.5) rotate(-90)" font-size="4.8" text-anchor="middle" fill="#333" stroke="#333" stroke-width="0.15">250</text>
<line x1="385.9" y1="492" x2="385.9" y2="494" stroke="#666" stroke-width="0.7"/>
<text transform="translate(385.3,500) scale(1,1.06)" font-size="4.8" text-anchor="middle" fill="#333" stroke="#333" stroke-width="0.15">10<tspan dy="-2.2" font-size="3.4">0</tspan><tspan dy="2.2"></tspan></text>
<line x1="413.1" y1="492" x2="413.1" y2="494" stroke="#666" stroke-width="0.7"/>
<text transform="translate(412.5,500) scale(1,1.06)" font-size="4.8" text-anchor="middle" fill="#333" stroke="#333" stroke-width="0.15">10<tspan dy="-2.2" font-size="3.4">1</tspan><tspan dy="2.2"></tspan></text>
<line x1="440.2" y1="492" x2="440.2" y2="494" stroke="#666" stroke-width="0.7"/>
<text transform="translate(439.6,500) scale(1,1.06)" font-size="4.8" text-anchor="middle" fill="#333" stroke="#333" stroke-width="0.15">10<tspan dy="-2.2" font-size="3.4">2</tspan><tspan dy="2.2"></tspan></text>
<line x1="467.3" y1="492" x2="467.3" y2="494" stroke="#666" stroke-width="0.7"/>
<text transform="translate(466.7,500) scale(1,1.06)" font-size="4.8" text-anchor="middle" fill="#333" stroke="#333" stroke-width="0.15">10<tspan dy="-2.2" font-size="3.4">3</tspan><tspan dy="2.2"></tspan></text>
<line x1="494.4" y1="492" x2="494.4" y2="494" stroke="#666" stroke-width="0.7"/>
<text transform="translate(493.8,500) scale(1,1.06)" font-size="4.8" text-anchor="middle" fill="#333" stroke="#333" stroke-width="0.15">10<tspan dy="-2.2" font-size="3.4">4</tspan><tspan dy="2.2"></tspan></text>
<polyline points="387,490.72 387.47,489.96 388.12,489.84 388.89,489.98 389.71,490.05 390.5,490.29 391.2,490.77 391.92,490.13 392.6,489.38 393.24,489.23 393.87,489.88 394.5,488.49 395.13,488.06 395.76,486.87 396.38,488.01 396.96,486.65 397.5,485.9 397.68,484.6 397.85,485.07 398.01,483.46 398.17,484.26 398.32,482.52 398.46,482.5 398.61,480.66 398.75,481.69 398.89,480 399.03,479.17 399.17,478.1 399.31,476.75 399.45,476.63 399.6,474.73 399.7,476.73 399.79,473.28 399.89,474.63 399.98,474.19 400.08,471.6 400.17,471.49 400.27,472.83 400.36,470.47 400.46,470.82 400.55,469.25 400.65,468.72 400.75,469.26 400.84,466.41 400.94,468.33 401.03,466.31 401.13,463.69 401.22,463.98 401.32,464.73 401.41,461.46 401.51,462.95 401.6,462.17 401.7,461.52 401.77,459.84 401.84,457.04 401.92,460.22 401.99,455.7 402.06,457.66 402.13,456.57 402.2,455.21 402.28,456.01 402.35,453.5 402.42,454.2 402.49,451.87 402.56,454.02 402.64,450.6 402.71,452.18 402.78,450.45 402.85,450.42 402.92,447.51 403,448.38 403.07,445.28 403.14,446 403.21,443.79 403.29,446.32 403.36,444.53 403.43,443.2 403.51,444.82 403.58,444 403.65,443.12 403.73,439.5 403.8,440.24 403.87,439.99 403.94,439.65 404.01,436.45 404.08,439.52 404.16,436.59 404.23,436.19 404.3,436.73 404.38,433.44 404.45,431.01 404.52,434.25 404.6,430.5 404.67,429.85 404.75,428.73 404.82,431.83 404.89,430.16 404.97,426.47 405.04,426.28 405.11,429.02 405.19,427.25 405.26,426.27 405.33,422.71 405.4,423.03 405.47,425.63 405.54,420.49 405.61,421.26 405.68,418.85 405.74,422.31 405.81,418.4 405.87,421.25 405.94,420.58 406,418.78 406.09,414.6 406.17,417.16 406.25,415.68 406.33,415.05 406.41,411.81 406.48,413.3 406.56,413.56 406.63,410.11 406.7,412.94 406.77,409.63 406.84,407.86 406.91,406.88 406.98,408.15 407.05,408.31 407.12,406.54 407.19,407.22 407.26,404.76 407.32,405.2 407.39,405.75 407.46,402.17 407.53,400.11 407.6,401.17 407.7,400.17 407.81,398.08 407.91,398.94 408.01,395.32 408.12,400.37 408.22,396.01 408.32,397.38 408.43,396.35 408.53,395.75 408.63,395.47 408.72,392.17 408.82,394.34 408.92,389.75 409.01,391.27 409.1,391.56 409.32,393.28 409.53,389.7 409.73,392.31 409.93,396.51 410.12,396.59 410.3,398.64 410.78,392.78 411.3,393.36 411.34,392.65 411.39,396.54 411.43,396.81 411.48,397.72 411.53,398.7 411.58,397.68 411.63,397.99 411.67,401.14 411.73,399.98 411.78,401.13 411.83,400.87 411.88,401.81 411.93,403.67 411.99,403.13 412.04,401.76 412.09,404.44 412.15,404.84 412.2,406.32 412.26,406.47 412.31,407.53 412.37,408.26 412.42,408.96 412.47,410.02 412.53,412.87 412.58,409.56 412.64,410.55 412.69,414.98 412.75,413.54 412.8,415.44 412.85,416.31 412.89,415.04 412.94,415.22 412.98,414.77 413.03,420.24 413.08,420.89 413.12,418.42 413.17,420.23 413.22,419.76 413.26,420.41 413.31,424.89 413.36,424.95 413.4,422.79 413.45,423.39 413.5,426.54 413.55,427.35 413.59,427.49 413.64,427.83 413.69,427.56 413.74,430.92 413.78,430.87 413.83,431.63 413.88,429.45 413.93,431.93 413.97,434.73 414.02,435.07 414.07,434.49 414.12,434.06 414.16,433.38 414.21,436.86 414.26,434.54 414.31,438.6 414.35,438.38 414.4,438.93 414.45,441.03 414.51,442.46 414.56,441.79 414.61,440.57 414.67,442.81 414.72,443.51 414.77,443.54 414.83,446.89 414.88,446.53 414.93,444.99 414.99,445.88 415.04,446.68 415.09,448.84 415.15,448.88 415.2,449.41 415.25,452.38 415.31,450.89 415.36,453.43 415.41,452.73 415.47,455.05 415.52,455.31 415.57,454.01 415.63,456.26 415.68,455.63 415.73,456.05 415.79,457.23 415.84,458.39 415.89,458.07 415.95,458.08 416,458.3 416.08,461.52 416.15,460.48 416.22,462.53 416.29,463.46 416.36,465.04 416.43,464.55 416.5,465.71 416.57,466.87 416.64,467.12 416.71,468.15 416.79,467.9 416.86,469.16 416.93,470.66 417.01,472.44 417.08,470.1 417.16,471.19 417.25,472.56 417.33,472.71 417.42,474.16 417.51,473.88 417.6,474.91 417.81,476.46 418.02,476.58 418.25,477.67 418.48,478.88 418.72,480.08 418.97,480.3 419.22,481.78 419.48,481.04 419.74,481.94 420,482.49 420.44,482.41 420.89,483.18 421.34,484.35 421.83,483.74 422.34,485.4 422.9,485.54 423.42,485.93 423.98,486.76 424.56,487.2 425.17,486.52 425.78,488.07 426.39,487.41 427,488.92 427.65,488.69 428.26,488.39 428.86,489.03 429.53,490.44 430.33,490.26 431.3,490.07 431.9,490.62 432.6,491.08 433.37,491.01 434.2,490.47 435.05,490.14 435.92,490.53 436.77,491.2 437.58,490.87 438.33,490.8 439,491.05 439.57,490.46 440,490.68" fill="none" stroke="#111" stroke-width="1.35" stroke-linejoin="round"/>
<polyline points="393,490.85 393.46,490.81 394.08,490.49 394.83,490.09 395.66,489.98 396.52,490.91 397.39,490.81 398.22,490.91 398.97,489.65 399.6,490.2 400.36,489.24 401,489.19 401.56,488.48 402.05,488.41 402.52,487.76 403,487.62 403.29,485.92 403.57,486.12 403.85,485.37 404.11,485.17 404.37,484.65 404.62,482.34 404.85,481.46 405.08,481.55 405.29,481.34 405.5,479.38 405.65,478.06 405.78,478.4 405.9,477.88 406.01,477.99 406.12,478.08 406.22,476.27 406.32,475.21 406.42,475.22 406.52,473.57 406.63,472.59 406.74,472.31 406.86,472.58 407,469.86 407.07,469.63 407.14,470.11 407.22,468.45 407.29,467.78 407.37,468.11 407.45,466.91 407.53,467.47 407.61,464.51 407.7,463.65 407.78,465.01 407.87,463.84 407.95,463.85 408.04,461.55 408.12,462.09 408.21,461.54 408.3,459.8 408.38,458.06 408.47,459.55 408.56,458.6 408.64,456.97 408.72,456.35 408.81,456.67 408.89,455.85 408.97,454.23 409.05,452.41 409.12,452.85 409.2,452.34 409.27,453.24 409.35,452.9 409.42,450.39 409.49,448.21 409.56,447.54 409.62,448.16 409.69,447.6 409.76,445.73 409.82,446 409.89,447.05 409.95,443.77 410.02,445.08 410.08,442.77 410.14,442.91 410.21,443.36 410.27,440.04 410.34,439.64 410.4,440.84 410.46,436.91 410.53,436.95 410.59,437.46 410.66,437.25 410.73,435.96 410.79,436.09 410.86,434.82 410.93,431.35 411,430.64 411.07,429.54 411.14,430.97 411.21,427.99 411.28,429.54 411.35,429.59 411.42,426.82 411.5,429.14 411.57,426.45 411.65,427.97 411.72,424.19 411.79,424.47 411.87,424.01 411.94,422.46 412.02,423.26 412.09,419 412.17,419.36 412.24,419.46 412.31,421.09 412.39,418.94 412.46,415.08 412.53,415.81 412.6,416.72 412.67,417.24 412.74,413.26 412.81,415.9 412.87,414.11 412.94,413.58 413,412.7 413.13,412.15 413.25,413.47 413.37,412.07 413.48,411.4 413.59,409.01 413.7,407.65 413.8,405.13 413.91,403.39 414.02,406.95 414.13,404.99 414.25,405.16 414.37,402.71 414.5,402.56 414.8,405.41 415.11,404.51 415.44,401.94 415.78,404.52 416.13,406.48 416.5,405.47 416.66,410.66 416.83,411.05 417,411.72 417.17,407.15 417.34,409.91 417.52,409.68 417.7,412.51 417.88,414.01 418.06,415.08 418.25,415.79 418.44,413.47 418.62,413.08 418.81,415.41 419,419.46 419.09,420.47 419.17,419.13 419.26,418.88 419.35,421.91 419.44,418.82 419.53,420.3 419.62,419.88 419.72,424.55 419.81,422.77 419.9,425.96 420,426.45 420.09,426.53 420.18,428.23 420.28,428.42 420.37,429.83 420.47,430.31 420.56,427.4 420.65,431.88 420.75,430.15 420.84,431.1 420.93,432.07 421.02,435.89 421.11,432.85 421.2,434.76 421.29,433.59 421.38,438.92 421.47,436.74 421.55,438.4 421.64,438.25 421.72,440.4 421.8,439.45 421.89,440.34 421.97,442.39 422.05,442.56 422.14,444.71 422.22,443.01 422.3,445.53 422.38,446.48 422.46,446.73 422.53,446.85 422.61,448.25 422.69,446.11 422.76,447.32 422.84,448.91 422.91,448.75 422.99,449.81 423.06,453.06 423.13,452.89 423.21,453.64 423.28,453.49 423.35,455.82 423.42,456.31 423.5,455.87 423.57,455.66 423.64,457.47 423.71,457.87 423.78,457.36 423.86,457.69 423.93,461.36 424,460.02 424.12,462.57 424.24,460.53 424.36,462.45 424.48,463.59 424.6,463.68 424.71,464.28 424.83,466.45 424.94,466.2 425.06,467.81 425.17,467.6 425.29,468.37 425.4,469.21 425.52,471.01 425.64,469.79 425.76,469.89 425.88,472.06 426,472.72 426.21,472.08 426.41,472.39 426.61,474.02 426.81,475.56 427.02,474.98 427.23,476.04 427.45,477.51 427.69,476.49 427.93,477.62 428.2,478.44 428.51,479.09 428.84,479.91 429.19,481.46 429.55,482.12 429.92,482.78 430.3,482.67 430.69,484.01 431.09,484.51 431.5,484.34 431.96,486.62 432.41,486.58 432.88,486.28 433.36,486.43 433.86,487.07 434.39,488.69 434.97,488.75 435.6,489.23 436.25,488.89 436.99,489.16 437.8,490.12 438.64,489.64 439.47,489.81 440.26,490.53 440.96,489.81 441.56,490.78 442,490.98" fill="none" stroke="#23692f" stroke-width="1.35" stroke-linejoin="round"/>
<polyline points="386,490.21 386.44,491.34 387.01,490.58 387.67,490.72 388.42,491.4 389.23,490.29 390.08,490.88 390.96,490.05 391.84,490.73 392.7,490.94 393.53,490.1 394.3,490.9 395,491.16 395.86,490.94 396.71,490.81 397.53,490.93 398.32,490.7 399.08,490.3 399.8,490.49 400.48,490.49 401.12,490.26 401.7,489.97 402.57,489.06 403.26,489.09 403.83,489.03 404.38,489.13 405,488.11 405.49,487.37 405.98,487.67 406.47,486.06 406.97,485.81 407.47,484.73 407.98,484.27 408.5,484.36 408.79,483.42 409.09,483.23 409.4,482.71 409.72,481.86 410.04,480.72 410.35,479.66 410.67,479.4 410.98,479.39 411.28,477.07 411.56,477.76 411.83,476.4 412.08,474.89 412.3,473.96 412.5,475.08 412.68,474.97 412.84,473.88 412.98,471.04 413.12,471.15 413.24,470.72 413.35,469.56 413.46,469.81 413.56,469.52 413.66,467.22 413.77,466.95 413.88,467.11 414,465.42 414.11,464.84 414.22,465.32 414.32,464.29 414.43,463.47 414.53,460.98 414.63,461.52 414.73,459.83 414.83,458.31 414.93,460.04 415.03,458.83 415.14,459.76 415.26,456.92 415.37,458.3 415.5,455.71 415.64,455.93 415.79,453.53 415.94,453.6 416.1,454.33 416.26,452.38 416.43,449.62 416.6,450.68 416.76,449.07 416.93,450.32 417.1,448.66 417.27,448.12 417.44,449.27 417.6,448.28 417.81,444.87 418.03,443.52 418.25,444.76 418.46,443.62 418.68,443.12 418.9,441.87 419.11,439.37 419.31,441.05 419.51,441.57 419.7,440.98 420.27,436.85 420.79,436.85 421.3,439.69 422.04,437.59 422.9,436.89 423.27,439.36 423.69,440.38 424.13,441.65 424.59,441.37 425.05,442.42 425.5,440.54 425.95,442.65 426.41,444.21 426.88,442.42 427.34,442.58 427.78,446.72 428.2,445.99 428.49,444.34 428.77,444.42 429.03,447.87 429.29,450.14 429.54,448.95 429.79,450.62 430.04,448.83 430.3,450.92 430.51,450.11 430.72,451.16 430.93,451.96 431.14,453.45 431.35,453.33 431.56,456.09 431.77,456.64 431.98,458.33 432.19,458.51 432.4,455.98 432.55,459.27 432.7,460.08 432.85,461.83 433,460.8 433.15,460.29 433.3,462.64 433.45,461.8 433.6,464.53 433.75,464.55 433.9,465.94 434.05,465.31 434.2,466.64 434.35,467.85 434.5,469.08 434.66,468.34 434.82,469.01 434.97,469.7 435.12,471.95 435.27,470.62 435.42,471.81 435.58,473.17 435.73,473.95 435.89,472.97 436.06,474.68 436.23,476.9 436.41,476.45 436.6,477.24 436.85,477.03 437.12,477.52 437.39,479.69 437.67,480.26 437.96,481.28 438.26,479.8 438.56,481.58 438.87,482.89 439.18,482.93 439.5,483.2 439.96,484.23 440.41,485.13 440.88,485.67 441.36,485.83 441.87,486.42 442.42,487.61 443,487.12 443.62,488.64 444.27,488.7 444.95,488.48 445.67,488.55 446.41,488.73 447.19,489.64 448,489.89 448.61,489.22 449.19,490.12 449.76,490.09 450.34,489.55 450.98,489.18 451.69,490.5 452.51,489.54 453.47,490.33 454.6,489.57 455.11,489.59 455.63,489.85 456.18,490.43 456.74,490.54 457.32,491.02 457.91,490.62 458.52,490.46 459.16,489.66 459.81,491.03 460.48,490.39 461.16,490.89 461.87,489.86 462.59,490.96 463.34,490.46 464.1,490.12 464.88,490.4 465.69,489.95 466.51,490.67 467.35,490.17 468.21,490.86 469.1,490.13 470,490.87 470.59,490.77 471.22,490.91 471.87,491.24 472.56,490.33 473.27,490.88 474,490.48 474.76,491.18 475.53,491.08 476.32,491 477.12,490.77 477.94,490.3 478.76,491.2 479.6,491.29 480.43,491.26 481.27,490.4 482.11,491.08 482.95,490.88 483.78,491.1 484.6,491.05 485.41,490.56 486.21,490.47 487,491.03 487.77,490.83 488.52,490.67 489.25,491.13 489.95,489.95 490.63,489.93 491.28,490.56 491.89,490.04 492.48,491.08 493.02,490.03 493.53,491.14 494,490.22 494.42,490.09 494.8,490.96" fill="none" stroke="#c4243c" stroke-width="1.35" stroke-linejoin="round"/>
<text transform="translate(416.5,396.2) scale(1,1.06)" font-size="9.2" stroke="#000" stroke-width="0.45">PBS</text>
<text transform="translate(425,417.2) scale(1,1.06)" font-size="8.6" fill="#23692f" stroke="#23692f" stroke-width="0.45">IgG<tspan dy="2" font-size="5.2">2a</tspan><tspan dy="-2"></tspan></text>
<text transform="translate(431.3,440.9) scale(1,1.06)" font-size="8.8" fill="#c4243c" stroke="#c4243c" stroke-width="0.45">RL90</text>
<text transform="translate(370.3,433.4) rotate(-90)" font-size="9.8" text-anchor="middle" stroke="#000" stroke-width="0.45">Cell count</text>
<text transform="translate(492.3,512.4) scale(1,1.06)" font-size="9.85" text-anchor="end" stroke="#000" stroke-width="0.45">PDI antigen expression</text>
<text transform="translate(0.3,538) scale(1,1.06)" font-size="13.6" font-weight="bold" stroke="#000" stroke-width="0.5">I</text>
<line x1="57" y1="540.6" x2="57" y2="679.1" stroke="#000" stroke-width="1.45"/>
<line x1="54" y1="678.6" x2="57" y2="678.6" stroke="#000" stroke-width="1.45"/>
<text transform="translate(48.6,681.6) scale(1,1.06)" font-size="9.6" text-anchor="end" stroke="#000" stroke-width="0.45">0</text>
<line x1="54" y1="658.96" x2="57" y2="658.96" stroke="#000" stroke-width="1.45"/>
<text transform="translate(48.6,661.96) scale(1,1.06)" font-size="9.6" text-anchor="end" stroke="#000" stroke-width="0.45">20</text>
<line x1="54" y1="639.31" x2="57" y2="639.31" stroke="#000" stroke-width="1.45"/>
<text transform="translate(48.6,642.31) scale(1,1.06)" font-size="9.6" text-anchor="end" stroke="#000" stroke-width="0.45">40</text>
<line x1="54" y1="619.67" x2="57" y2="619.67" stroke="#000" stroke-width="1.45"/>
<text transform="translate(48.6,622.67) scale(1,1.06)" font-size="9.6" text-anchor="end" stroke="#000" stroke-width="0.45">60</text>
<line x1="54" y1="600.03" x2="57" y2="600.03" stroke="#000" stroke-width="1.45"/>
<text transform="translate(48.6,603.03) scale(1,1.06)" font-size="9.6" text-anchor="end" stroke="#000" stroke-width="0.45">80</text>
<line x1="54" y1="580.39" x2="57" y2="580.39" stroke="#000" stroke-width="1.45"/>
<text transform="translate(48.6,583.39) scale(1,1.06)" font-size="9.6" text-anchor="end" stroke="#000" stroke-width="0.45">100</text>
<line x1="54" y1="560.74" x2="57" y2="560.74" stroke="#000" stroke-width="1.45"/>
<text transform="translate(48.6,563.74) scale(1,1.06)" font-size="9.6" text-anchor="end" stroke="#000" stroke-width="0.45">120</text>
<line x1="54" y1="541.1" x2="57" y2="541.1" stroke="#000" stroke-width="1.45"/>
<text transform="translate(48.6,544.1) scale(1,1.06)" font-size="9.6" text-anchor="end" stroke="#000" stroke-width="0.45">140</text>
<line x1="56.5" y1="678.6" x2="148.1" y2="678.6" stroke="#000" stroke-width="1.45"/>
<line x1="57" y1="678.6" x2="57" y2="681.6" stroke="#000" stroke-width="1.45"/>
<line x1="79.3" y1="678.6" x2="79.3" y2="681.6" stroke="#000" stroke-width="1.45"/>
<line x1="102.6" y1="678.6" x2="102.6" y2="681.6" stroke="#000" stroke-width="1.45"/>
<line x1="125.4" y1="678.6" x2="125.4" y2="681.6" stroke="#000" stroke-width="1.45"/>
<line x1="148.1" y1="678.6" x2="148.1" y2="681.6" stroke="#000" stroke-width="1.45"/>
<rect x="60.3" y="579.7" width="15.8" height="98.9" fill="#000"/>
<line x1="68.2" y1="579.7" x2="68.2" y2="558.9" stroke="#000" stroke-width="1.3"/>
<line x1="65.9" y1="558.9" x2="70.5" y2="558.9" stroke="#000" stroke-width="1.3"/>
<rect x="83.6" y="636.7" width="15.3" height="41.9" fill="#000"/>
<line x1="91.25" y1="636.7" x2="91.25" y2="634.2" stroke="#000" stroke-width="1.3"/>
<line x1="88.95" y1="634.2" x2="93.55" y2="634.2" stroke="#000" stroke-width="1.3"/>
<rect x="106.6" y="628.3" width="15.9" height="50.3" fill="#000"/>
<line x1="114.55" y1="628.3" x2="114.55" y2="626.4" stroke="#000" stroke-width="1.3"/>
<line x1="112.25" y1="626.4" x2="116.85" y2="626.4" stroke="#000" stroke-width="1.3"/>
<rect x="129.7" y="654.2" width="15.8" height="24.4" fill="#000"/>
<line x1="137.6" y1="654.2" x2="137.6" y2="648" stroke="#000" stroke-width="1.3"/>
<line x1="135.3" y1="648" x2="139.9" y2="648" stroke="#000" stroke-width="1.3"/>
<text transform="translate(25.2,609.8) rotate(-90)" font-size="9.8" text-anchor="middle" stroke="#000" stroke-width="0.45">PDI activity (% of control)</text>
<text transform="translate(65.3,684.6) rotate(90)" font-size="9.8" stroke="#000" stroke-width="0.45">Control</text>
<text transform="translate(82.2,684.6) rotate(90)" font-size="9.8" stroke="#000" stroke-width="0.45">50 µg/ml</text>
<text transform="translate(93.5,684.6) rotate(90)" font-size="9.8" stroke="#000" stroke-width="0.45">RL90</text>
<text transform="translate(105.8,684.6) rotate(90)" font-size="9.8" stroke="#000" stroke-width="0.45">100 µM</text>
<text transform="translate(116.9,684.6) rotate(90)" font-size="9.8" stroke="#000" stroke-width="0.45">Rutin</text>
<text transform="translate(127.7,684.6) rotate(90)" font-size="9.8" stroke="#000" stroke-width="0.45">1 mM</text>
<text transform="translate(139.9,684.6) rotate(90)" font-size="9.8" stroke="#000" stroke-width="0.45">Bacitracin</text>
<line x1="189.8" y1="539.9" x2="189.8" y2="679.3" stroke="#000" stroke-width="1.45"/>
<line x1="186.8" y1="679.2" x2="189.8" y2="679.2" stroke="#000" stroke-width="1.45"/>
<text transform="translate(181.4,682.2) scale(1,1.06)" font-size="9.6" text-anchor="end" stroke="#000" stroke-width="0.45">0</text>
<line x1="186.8" y1="659.43" x2="189.8" y2="659.43" stroke="#000" stroke-width="1.45"/>
<text transform="translate(181.4,662.43) scale(1,1.06)" font-size="9.6" text-anchor="end" stroke="#000" stroke-width="0.45">20</text>
<line x1="186.8" y1="639.66" x2="189.8" y2="639.66" stroke="#000" stroke-width="1.45"/>
<text transform="translate(181.4,642.66) scale(1,1.06)" font-size="9.6" text-anchor="end" stroke="#000" stroke-width="0.45">40</text>
<line x1="186.8" y1="619.89" x2="189.8" y2="619.89" stroke="#000" stroke-width="1.45"/>
<text transform="translate(181.4,622.89) scale(1,1.06)" font-size="9.6" text-anchor="end" stroke="#000" stroke-width="0.45">60</text>
<line x1="186.8" y1="600.11" x2="189.8" y2="600.11" stroke="#000" stroke-width="1.45"/>
<text transform="translate(181.4,603.11) scale(1,1.06)" font-size="9.6" text-anchor="end" stroke="#000" stroke-width="0.45">80</text>
<line x1="186.8" y1="580.34" x2="189.8" y2="580.34" stroke="#000" stroke-width="1.45"/>
<text transform="translate(181.4,583.34) scale(1,1.06)" font-size="9.6" text-anchor="end" stroke="#000" stroke-width="0.45">100</text>
<line x1="186.8" y1="560.57" x2="189.8" y2="560.57" stroke="#000" stroke-width="1.45"/>
<text transform="translate(181.4,563.57) scale(1,1.06)" font-size="9.6" text-anchor="end" stroke="#000" stroke-width="0.45">120</text>
<line x1="186.8" y1="540.8" x2="189.8" y2="540.8" stroke="#000" stroke-width="1.45"/>
<text transform="translate(181.4,543.8) scale(1,1.06)" font-size="9.6" text-anchor="end" stroke="#000" stroke-width="0.45">140</text>
<line x1="189.3" y1="678.8" x2="281.5" y2="678.8" stroke="#000" stroke-width="1.45"/>
<line x1="189.8" y1="678.8" x2="189.8" y2="681.8" stroke="#000" stroke-width="1.45"/>
<line x1="212.8" y1="678.8" x2="212.8" y2="681.8" stroke="#000" stroke-width="1.45"/>
<line x1="236" y1="678.8" x2="236" y2="681.8" stroke="#000" stroke-width="1.45"/>
<line x1="259.3" y1="678.8" x2="259.3" y2="681.8" stroke="#000" stroke-width="1.45"/>
<line x1="281.5" y1="678.8" x2="281.5" y2="681.8" stroke="#000" stroke-width="1.45"/>
<rect x="193.5" y="580.4" width="16" height="98.4" fill="#000"/>
<line x1="201.5" y1="580.4" x2="201.5" y2="556.4" stroke="#000" stroke-width="1.3"/>
<line x1="199.2" y1="556.4" x2="203.8" y2="556.4" stroke="#000" stroke-width="1.3"/>
<rect x="216.6" y="624" width="16" height="54.8" fill="#000"/>
<line x1="224.6" y1="624" x2="224.6" y2="621.9" stroke="#000" stroke-width="1.3"/>
<line x1="222.3" y1="621.9" x2="226.9" y2="621.9" stroke="#000" stroke-width="1.3"/>
<rect x="238.8" y="622.8" width="16.3" height="56" fill="#000"/>
<line x1="246.95" y1="622.8" x2="246.95" y2="615.2" stroke="#000" stroke-width="1.3"/>
<line x1="244.65" y1="615.2" x2="249.25" y2="615.2" stroke="#000" stroke-width="1.3"/>
<rect x="262.8" y="640.4" width="16" height="38.4" fill="#000"/>
<line x1="270.8" y1="640.4" x2="270.8" y2="625.6" stroke="#000" stroke-width="1.3"/>
<line x1="268.5" y1="625.6" x2="273.1" y2="625.6" stroke="#000" stroke-width="1.3"/>
<text transform="translate(158.4,608.8) rotate(-90)" font-size="9.8" text-anchor="middle" stroke="#000" stroke-width="0.45">PCA (% of control)</text>
<text transform="translate(199.1,684.6) rotate(90)" font-size="9.8" stroke="#000" stroke-width="0.45">Control</text>
<text transform="translate(215.1,684.6) rotate(90)" font-size="9.8" stroke="#000" stroke-width="0.45">50 µg/ml</text>
<text transform="translate(226.8,684.6) rotate(90)" font-size="9.8" stroke="#000" stroke-width="0.45">RL90</text>
<text transform="translate(238.6,684.6) rotate(90)" font-size="9.8" stroke="#000" stroke-width="0.45">100 µM</text>
<text transform="translate(250.1,684.6) rotate(90)" font-size="9.8" stroke="#000" stroke-width="0.45">Rutin</text>
<text transform="translate(261.6,684.6) rotate(90)" font-size="9.8" stroke="#000" stroke-width="0.45">1 mM</text>
<text transform="translate(272.8,684.6) rotate(90)" font-size="9.8" stroke="#000" stroke-width="0.45">Bacitracin</text>
<text transform="translate(288.6,538.2) scale(1,1.06)" font-size="13.6" font-weight="bold" stroke="#000" stroke-width="0.5">J</text>
<line x1="323.1" y1="540.6" x2="323.1" y2="678.8" stroke="#000" stroke-width="1.45"/>
<line x1="320.1" y1="678.3" x2="323.1" y2="678.3" stroke="#000" stroke-width="1.45"/>
<text transform="translate(314.3,681.6) scale(1,1.14)" font-size="8.6" text-anchor="end" stroke="#000" stroke-width="0.45">0</text>
<line x1="320.1" y1="655.43" x2="323.1" y2="655.43" stroke="#000" stroke-width="1.45"/>
<text transform="translate(314.3,658.73) scale(1,1.14)" font-size="8.6" text-anchor="end" stroke="#000" stroke-width="0.45">1</text>
<line x1="320.1" y1="632.57" x2="323.1" y2="632.57" stroke="#000" stroke-width="1.45"/>
<text transform="translate(314.3,635.87) scale(1,1.14)" font-size="8.6" text-anchor="end" stroke="#000" stroke-width="0.45">2</text>
<line x1="320.1" y1="609.7" x2="323.1" y2="609.7" stroke="#000" stroke-width="1.45"/>
<text transform="translate(314.3,613) scale(1,1.14)" font-size="8.6" text-anchor="end" stroke="#000" stroke-width="0.45">3</text>
<line x1="320.1" y1="586.83" x2="323.1" y2="586.83" stroke="#000" stroke-width="1.45"/>
<text transform="translate(314.3,590.13) scale(1,1.14)" font-size="8.6" text-anchor="end" stroke="#000" stroke-width="0.45">4</text>
<line x1="320.1" y1="563.97" x2="323.1" y2="563.97" stroke="#000" stroke-width="1.45"/>
<text transform="translate(314.3,567.27) scale(1,1.14)" font-size="8.6" text-anchor="end" stroke="#000" stroke-width="0.45">5</text>
<line x1="320.1" y1="541.1" x2="323.1" y2="541.1" stroke="#000" stroke-width="1.45"/>
<text transform="translate(314.3,544.4) scale(1,1.14)" font-size="8.6" text-anchor="end" stroke="#000" stroke-width="0.45">6</text>
<line x1="322.6" y1="678.3" x2="514.4" y2="678.3" stroke="#000" stroke-width="1.45"/>
<line x1="323.1" y1="678.3" x2="323.1" y2="681.3" stroke="#000" stroke-width="1.45"/>
<line x1="350.5" y1="678.3" x2="350.5" y2="681.3" stroke="#000" stroke-width="1.45"/>
<line x1="377.8" y1="678.3" x2="377.8" y2="681.3" stroke="#000" stroke-width="1.45"/>
<line x1="405.1" y1="678.3" x2="405.1" y2="681.3" stroke="#000" stroke-width="1.45"/>
<line x1="432.4" y1="678.3" x2="432.4" y2="681.3" stroke="#000" stroke-width="1.45"/>
<line x1="459.7" y1="678.3" x2="459.7" y2="681.3" stroke="#000" stroke-width="1.45"/>
<line x1="487" y1="678.3" x2="487" y2="681.3" stroke="#000" stroke-width="1.45"/>
<line x1="514.4" y1="678.3" x2="514.4" y2="681.3" stroke="#000" stroke-width="1.45"/>
<rect x="328.3" y="656.1" width="17" height="22.2" fill="#fff" stroke="#000" stroke-width="1"/>
<rect x="356.1" y="652.7" width="16.4" height="25.6" fill="#fff" stroke="#000" stroke-width="1"/>
<line x1="364.3" y1="652.2" x2="364.3" y2="650" stroke="#000" stroke-width="1.3"/>
<line x1="362" y1="650" x2="366.6" y2="650" stroke="#000" stroke-width="1.3"/>
<rect x="383.3" y="659.7" width="16.5" height="18.6" fill="#fff" stroke="#000" stroke-width="1"/>
<line x1="391.55" y1="659.2" x2="391.55" y2="653.3" stroke="#000" stroke-width="1.3"/>
<line x1="389.25" y1="653.3" x2="393.85" y2="653.3" stroke="#000" stroke-width="1.3"/>
<rect x="409.7" y="586.7" width="18.1" height="91.6" fill="#000"/>
<line x1="418.75" y1="586.7" x2="418.75" y2="553.6" stroke="#000" stroke-width="1.3"/>
<line x1="416.45" y1="553.6" x2="421.05" y2="553.6" stroke="#000" stroke-width="1.3"/>
<rect x="436.9" y="641.7" width="18.1" height="36.6" fill="#000"/>
<line x1="445.95" y1="641.7" x2="445.95" y2="632" stroke="#000" stroke-width="1.3"/>
<line x1="443.65" y1="632" x2="448.25" y2="632" stroke="#000" stroke-width="1.3"/>
<rect x="464.1" y="632.5" width="18.4" height="45.8" fill="#000"/>
<line x1="473.3" y1="632.5" x2="473.3" y2="608.9" stroke="#000" stroke-width="1.3"/>
<line x1="471" y1="608.9" x2="475.6" y2="608.9" stroke="#000" stroke-width="1.3"/>
<rect x="491.9" y="675.8" width="17.8" height="2.5" fill="#000"/>
<line x1="500.8" y1="675.8" x2="500.8" y2="674.5" stroke="#000" stroke-width="1.3"/>
<line x1="498.5" y1="674.5" x2="503.1" y2="674.5" stroke="#000" stroke-width="1.3"/>
<rect x="327.7" y="540.5" width="10.5" height="6.7" fill="#fff" stroke="#111" stroke-width="1"/>
<rect x="327.2" y="551.8" width="11.5" height="7.2" fill="#000"/>
<text transform="translate(341.5,547.3) scale(1,1.06)" font-size="9.2" stroke="#000" stroke-width="0.45">IgG</text>
<text transform="translate(341.5,558.6) scale(1,1.06)" font-size="9.2" stroke="#000" stroke-width="0.45">ATG</text>
<text transform="translate(302.3,609.6) rotate(-90)" font-size="9.9" text-anchor="middle" stroke="#000" stroke-width="0.45">PCA (fold increase)</text>
<line x1="418.6" y1="548.6" x2="447" y2="548.6" stroke="#000" stroke-width="1.4"/>
<text transform="translate(432.8,546.7) scale(1,1.06)" font-size="8.2" text-anchor="middle" stroke="#000" stroke-width="0.3">P&lt;0.001</text>
<line x1="418.6" y1="536.1" x2="474.2" y2="536.1" stroke="#000" stroke-width="1.4"/>
<text transform="translate(446.6,533.5) scale(1,1.06)" font-size="8.2" text-anchor="middle" stroke="#000" stroke-width="0.3">P&lt;0.05</text>
<text transform="translate(333.9,684.6) rotate(90)" font-size="9.8" stroke="#000" stroke-width="0.45">PBS</text>
<text transform="translate(361.4,684.6) rotate(90)" font-size="9.8" stroke="#000" stroke-width="0.45">αC5</text>
<text transform="translate(388.9,684.6) rotate(90)" font-size="9.8" stroke="#000" stroke-width="0.45">Rutin</text>
<text transform="translate(415.9,684.6) rotate(90)" font-size="9.8" stroke="#000" stroke-width="0.45">PBS</text>
<text transform="translate(443.2,684.6) rotate(90)" font-size="9.8" stroke="#000" stroke-width="0.45">αC5</text>
<text transform="translate(469.9,684.6) rotate(90)" font-size="9.8" stroke="#000" stroke-width="0.45">Rutin</text>
<text transform="translate(498.3,684.6) rotate(90)" font-size="9.8" stroke="#000" stroke-width="0.45">αTF</text>
</svg>
</body></html>
